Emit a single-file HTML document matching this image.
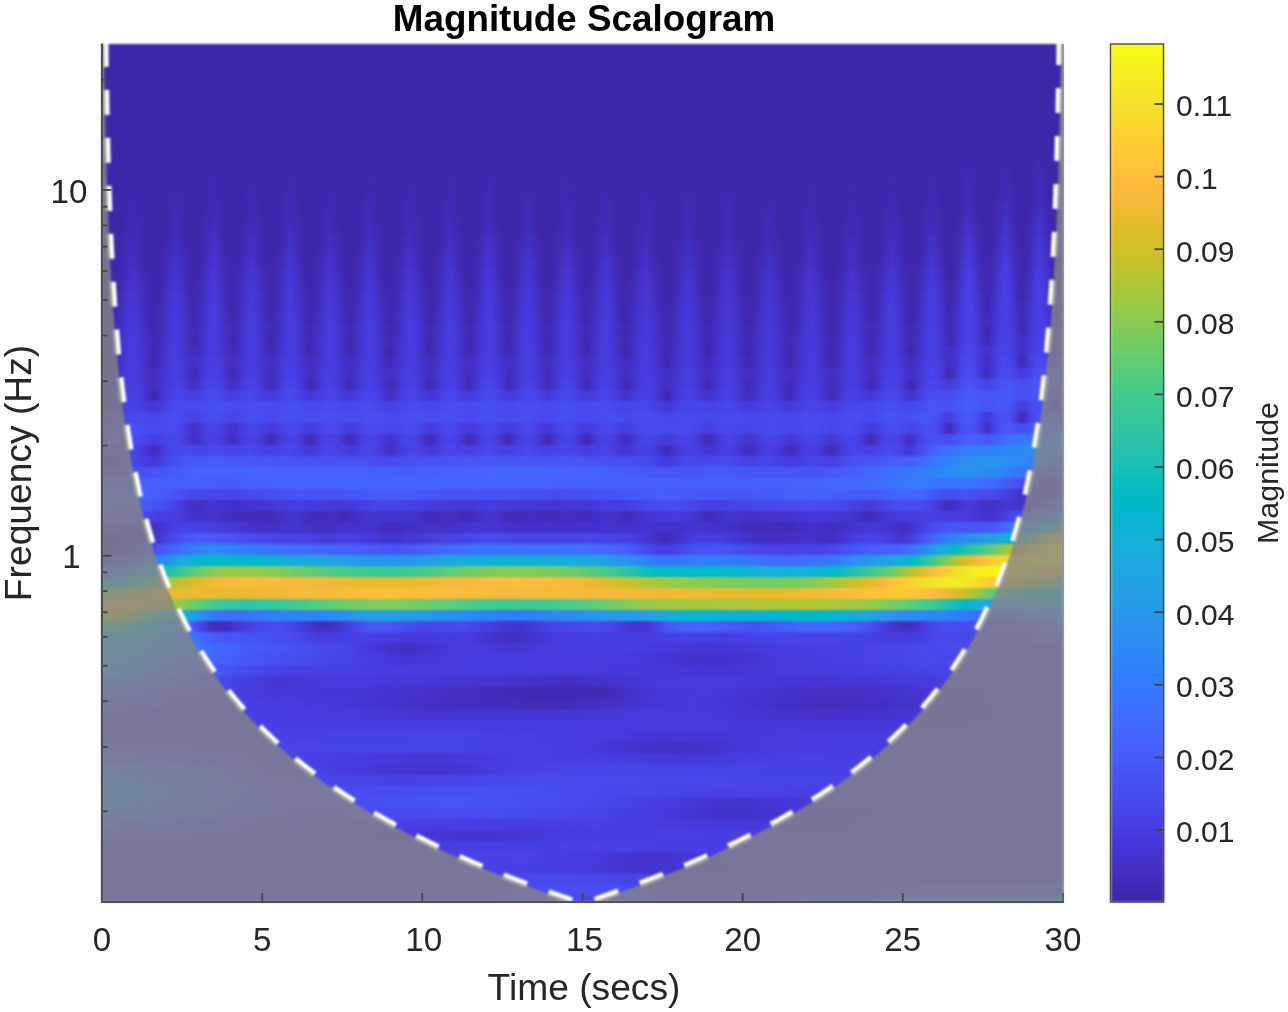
<!DOCTYPE html>
<html><head><meta charset="utf-8"><title>Magnitude Scalogram</title>
<style>
html,body{margin:0;padding:0;background:#fff}
body{width:1288px;height:1012px;position:relative;overflow:hidden;font-family:"Liberation Sans",sans-serif}
#plot{position:absolute;left:102.0px;top:44.0px;width:961.0px;height:858.0px;overflow:hidden;background:#3e26a8}
#plot i{position:absolute;left:0;width:962px;height:11.2px;display:block}
#cb{position:absolute;left:1110.5px;top:44.0px;width:53.0px;height:858.0px;background:linear-gradient(180deg,#f9fb15 0.00%,#f7f51b 1.56%,#f6ef20 3.12%,#f5e924 4.69%,#f5e327 6.25%,#f7dd2a 7.81%,#f9d62d 9.38%,#fcd030 10.94%,#feca33 12.50%,#fec437 14.06%,#febe3c 15.62%,#f9bb3d 17.19%,#f1ba37 18.75%,#e8bb2f 20.31%,#debc2a 21.88%,#d4bf28 23.44%,#c8c129 25.00%,#bcc42f 26.56%,#afc637 28.12%,#a2c840 29.69%,#94ca4a 31.25%,#85cb55 32.81%,#77cc60 34.38%,#69cd6b 35.94%,#5ccc76 37.50%,#4fcc80 39.06%,#44ca8a 40.62%,#3ac993 42.19%,#34c79c 43.75%,#2ec5a4 45.31%,#28c2ab 46.88%,#1ec0b2 48.44%,#12beb9 50.00%,#07bcc0 51.56%,#01b9c6 53.12%,#04b6cd 54.69%,#0cb3d3 56.25%,#14b0d8 57.81%,#1aacdd 59.38%,#1ea7e1 60.94%,#21a3e3 62.50%,#249ee6 64.06%,#269ae9 65.62%,#2895ec 67.19%,#2c90f0 68.75%,#2d8bf4 70.31%,#2e85f8 71.88%,#3080fa 73.44%,#347afd 75.00%,#3a74fe 76.56%,#3f6efe 78.12%,#4368fe 79.69%,#4562fc 81.25%,#475dfa 82.81%,#4757f7 84.38%,#4852f4 85.94%,#484cef 87.50%,#4746ea 89.06%,#4741e5 90.62%,#463bdd 92.19%,#4536d5 93.75%,#4332ca 95.31%,#422ebf 96.88%,#402ab4 98.44%,#3e26a8 100.00%)}
svg{position:absolute;left:0;top:0}
text{font-family:"Liberation Sans",sans-serif;fill:#262626}
.tk{font-size:33.2px} .ck{font-size:30px} .lb{font-size:37.2px} .mg{font-size:30.4px}
.tt{font-size:36.8px;font-weight:bold;fill:#000}
line{stroke:#444;stroke-width:1.8}
#wrap{position:absolute;left:0;top:0;width:1288px;height:1012px;background:#fff;filter:blur(0.9px)}
#top{position:absolute;left:0;top:0;width:1288px;height:1012px;filter:blur(0.55px)}
</style></head><body><div id="wrap">
<div id="plot">
<i style="top:-6.1px;background:linear-gradient(90deg,#3e26a8 0px,#3e26a8 711px,#3e26a8 922px,#3e26a8 950px,#3e26a8 959px,#3e26a8 961px)"></i>
<i style="top:4.9px;background:linear-gradient(90deg,#3e26a8 0px,#3e26a8 711px,#3e26a8 922px,#3e26a8 950px,#3e26a8 959px,#3e26a8 961px)"></i>
<i style="top:15.9px;background:linear-gradient(90deg,#3e26a8 0px,#3e26a8 711px,#3e26a8 922px,#3e26a8 950px,#3e26a8 959px,#3e26a8 961px)"></i>
<i style="top:26.9px;background:linear-gradient(90deg,#3e26a8 0px,#3e26a8 711px,#3e26a8 922px,#3e26a8 950px,#3e26a8 959px,#3e26a8 961px)"></i>
<i style="top:37.9px;background:linear-gradient(90deg,#3e26a8 0px,#3e26a8 711px,#3e26a8 922px,#3e26a8 950px,#3e26a8 959px,#3e26a8 961px)"></i>
<i style="top:48.9px;background:linear-gradient(90deg,#3e26a8 0px,#3e26a8 711px,#3e26a8 922px,#3e26a8 950px,#3e26a8 959px,#3e26a8 961px)"></i>
<i style="top:59.9px;background:linear-gradient(90deg,#3e26a8 0px,#3e26a8 711px,#3e26a8 922px,#3e26a8 950px,#3e26a8 959px,#3e26a8 961px)"></i>
<i style="top:70.9px;background:linear-gradient(90deg,#3e26a8 0px,#3e26a8 711px,#3e26a8 922px,#3e26a8 950px,#3e26a8 959px,#3e26a8 961px)"></i>
<i style="top:81.9px;background:linear-gradient(90deg,#3e26a8 0px,#3e26a8 711px,#3e26a8 922px,#3e26a8 950px,#3e26a8 959px,#3e26a8 961px)"></i>
<i style="top:92.9px;background:linear-gradient(90deg,#3e26a8 0px,#3e26a8 711px,#3e26a8 922px,#3e27aa 941px,#3e26a8 960px,#3e26a8 961px)"></i>
<i style="top:103.9px;background:linear-gradient(90deg,#3e26a8 0px,#3e26a9 711px,#3e26a8 852px,#3e27aa 871px,#3e27ab 899px,#3e26a8 927px,#3f28ad 940px,#3e26a8 953px,#3e26a8 959px,#3e26a8 961px)"></i>
<i style="top:114.9px;background:linear-gradient(90deg,#3e26a8 0px,#3e26a8 94px,#3e27ab 113px,#3e26a9 141px,#3e27aa 183px,#3e26a8 324px,#3e26a8 366px,#3e27ab 385px,#3e26a8 413px,#3e26a8 729px,#3e27a9 823px,#3e26a8 851px,#3f28ae 864px,#3e26a8 883px,#3e27aa 896px,#3f28af 905px,#3e26a8 914px,#3e26a8 927px,#3f29b1 936px,#3e26a8 949px,#3e26a8 958px,#3e26a8 961px)"></i>
<i style="top:125.9px;background:linear-gradient(90deg,#3e26a8 0px,#3e26a8 63px,#3e27ab 76px,#3e27a9 104px,#3f28ae 113px,#3e26a8 126px,#3e27ab 154px,#3e27aa 182px,#3f28ad 191px,#3e26a8 204px,#3e27ab 232px,#3e27a9 260px,#3e28ac 269px,#3e26a8 288px,#3e27ac 307px,#3e26a8 335px,#3e28ac 348px,#3e26a8 376px,#3f28ae 389px,#3e26a8 402px,#3e27ab 430px,#3e27aa 458px,#3e28ac 467px,#3e26a8 486px,#3e28ac 505px,#3e26a8 524px,#3e27aa 665px,#3e26a9 759px,#3e26a8 778px,#3e28ac 791px,#3e26a8 810px,#3e28ad 829px,#3e26a8 857px,#3f29b2 866px,#3e26a8 879px,#3e26a8 892px,#3f28ad 898px,#402ab3 904px,#3e26a8 913px,#3e26a8 926px,#3f28ad 932px,#402ab5 938px,#3e26a8 947px,#3e26a8 960px,#3e26a9 961px)"></i>
<i style="top:136.9px;background:linear-gradient(90deg,#3e26a8 0px,#3e27ab 28px,#3e26a8 56px,#3f28ad 75px,#3e26a8 88px,#3e26a8 101px,#3f29b1 110px,#3e26a8 123px,#3e27a9 142px,#3f28ae 151px,#3e26a8 164px,#3e26a8 177px,#3f29b0 190px,#3e26a8 199px,#3e26a8 218px,#3f28ad 231px,#3e26a8 244px,#3e26a8 257px,#3f28af 266px,#3e26a8 285px,#3e26a8 298px,#3f28ad 311px,#3e26a8 324px,#3e27ac 343px,#3f28af 349px,#3e26a8 362px,#3e27ab 381px,#3f29b1 387px,#3e26a9 396px,#3e26a8 415px,#3f28af 428px,#3e26a8 437px,#3e27a9 456px,#3f29af 465px,#3e26a8 478px,#3e27aa 497px,#3f28ae 506px,#3e26a8 519px,#3e27ac 547px,#3e26a8 566px,#3f28ad 585px,#3e26a8 604px,#3e26a9 617px,#3f28ae 626px,#3e26a8 645px,#3e27aa 673px,#3e27a9 701px,#3f28ad 710px,#3e26a8 723px,#3e28ac 751px,#3e26a8 779px,#3f28ae 792px,#3e26a8 805px,#3e27ab 824px,#3f29b0 830px,#3e26a8 843px,#3e26a8 856px,#3f29af 862px,#402bb6 866px,#3f28af 872px,#3e26a8 878px,#3e26a8 891px,#3f28ad 897px,#402bb8 903px,#3e27a9 912px,#3e26a8 925px,#3f28ad 931px,#412cb9 937px,#3e27a9 946px,#3e26a8 959px,#3e27aa 961px)"></i>
<i style="top:147.9px;background:linear-gradient(90deg,#3e26a8 0px,#3e26a8 19px,#3f28ae 32px,#3e26a8 45px,#3e27a9 64px,#3f29b0 73px,#3e26a8 86px,#3e26a8 99px,#3e27ac 105px,#402ab5 111px,#3e27aa 120px,#3e26a8 139px,#3f29b1 148px,#3e26a8 161px,#3e27a9 180px,#402ab4 189px,#3e26a9 198px,#3e26a8 217px,#3f29b1 230px,#3e26a8 239px,#3e26a9 258px,#402ab3 267px,#3e26a8 280px,#3e26a9 299px,#3f29b2 308px,#3e26a8 321px,#3e27aa 340px,#3f29b2 349px,#3e26a8 358px,#3e26a8 377px,#402ab5 386px,#3f28af 392px,#3e26a8 398px,#3e27a9 417px,#4029b2 426px,#3e27a9 435px,#3e26a8 454px,#3f29b2 463px,#3f28af 469px,#3e26a8 478px,#3e27ab 497px,#3f29b2 503px,#3e26a8 516px,#3e27a9 535px,#3f29b0 544px,#3e26a8 557px,#3e26a9 576px,#3f29b0 585px,#3e26a8 598px,#3e27a9 617px,#3f29b1 626px,#3e26a8 639px,#3e26a9 658px,#3f28ae 667px,#3e26a8 686px,#3e26a9 699px,#3f29b0 708px,#3e26a8 721px,#3e26a9 740px,#3f28ae 753px,#3e26a8 766px,#3e26a8 779px,#3f29b2 788px,#3f28af 794px,#3e26a8 803px,#3e27aa 822px,#402ab3 831px,#3e26a8 840px,#3e27ab 859px,#412cba 865px,#412cb9 869px,#3e27ab 875px,#3e27aa 894px,#412dbc 903px,#3e27aa 912px,#3e26a8 925px,#3f28af 931px,#412ebe 937px,#402bb8 941px,#3e27a9 947px,#3e27aa 960px,#3e27ab 961px)"></i>
<i style="top:158.9px;background:linear-gradient(90deg,#3e26a8 0px,#3e26a8 19px,#3f29b1 32px,#3e26a8 45px,#3e27a9 64px,#402ab4 73px,#3e26a8 86px,#3e26a8 99px,#3f28ae 105px,#412cb9 111px,#3f29b0 117px,#3e26a8 123px,#3e27ab 142px,#402ab5 148px,#3f29b1 154px,#3e26a9 160px,#3e27a9 179px,#402bb8 188px,#3f29b0 194px,#3e26a8 200px,#3e27a9 219px,#402ab5 228px,#3e27aa 237px,#3e26a8 256px,#402ab5 265px,#402bb6 269px,#3e26a9 278px,#3e26a8 297px,#402ab4 306px,#3f29b2 312px,#3e27a9 318px,#3e26a8 337px,#402ab5 346px,#3f29b2 352px,#3e26a9 358px,#3e27a9 377px,#412cb9 386px,#3f29b1 392px,#3e26a8 398px,#3e27aa 417px,#402bb6 426px,#3e27aa 435px,#3e26a8 454px,#402ab6 463px,#3f29b2 469px,#3e26a9 475px,#3e27a9 494px,#402bb6 503px,#3f29af 509px,#3e26a8 515px,#3e26a9 534px,#402ab3 543px,#3e26a8 556px,#3e26a8 575px,#402ab3 584px,#3f29b0 590px,#3e26a8 599px,#3e27aa 618px,#402ab4 627px,#3e26a9 636px,#3e26a8 655px,#3f29b1 668px,#3e26a8 681px,#3e27aa 700px,#402ab4 709px,#3e27a9 718px,#3e26a8 737px,#3f29b2 750px,#3e26a8 763px,#3e27ab 782px,#402bb6 788px,#3f29b1 794px,#3e26a9 800px,#3e26a8 819px,#402bb6 828px,#402bb6 832px,#3e26a8 841px,#3e26a8 854px,#3f29b0 860px,#422fc0 866px,#412dbb 870px,#3e27ab 876px,#3e26a8 889px,#3f28ad 895px,#422ebf 901px,#422ec0 905px,#3f28ae 911px,#3e26a8 917px,#3e27a9 926px,#3f29af 930px,#422fc2 936px,#422ebf 940px,#3e28ac 946px,#3e26a8 955px,#3f28ad 961px)"></i>
<i style="top:169.9px;background:linear-gradient(90deg,#3e26a8 0px,#3e26a8 19px,#402ab4 32px,#3e27a9 41px,#3e26a8 60px,#3f28ad 66px,#402bb7 72px,#4029b3 78px,#3e27a9 84px,#3e26a8 97px,#3e28ac 103px,#412cbb 109px,#412dbc 113px,#3e27aa 122px,#3e26a8 135px,#3e27ab 141px,#412cb9 150px,#3e27aa 159px,#3e27aa 178px,#412dbb 187px,#412cba 191px,#3e27a9 200px,#3e27ab 219px,#412cb9 228px,#3e27ab 237px,#3e26a9 256px,#412cb8 265px,#412cba 269px,#3e27a9 278px,#3e26a9 297px,#402bb7 306px,#412cb8 310px,#3e27a9 319px,#3e27aa 338px,#412cb9 347px,#402ab3 353px,#3e27a9 359px,#3e26a8 372px,#3e27ac 378px,#412ebd 387px,#3e27ac 396px,#3e26a8 409px,#3e28ad 418px,#412cb9 424px,#412cb9 428px,#3e27a9 437px,#3e26a8 450px,#3e27ab 456px,#412cbb 465px,#3e27ab 474px,#3e27a9 493px,#412cb9 502px,#412cb8 506px,#3e27a9 515px,#3e27aa 534px,#402bb7 543px,#3f29b1 549px,#3e26a9 555px,#3e26a8 574px,#402ab5 583px,#402ab5 589px,#3e26a8 598px,#3e27ab 617px,#402bb7 626px,#3e27aa 635px,#3e26a8 654px,#402ab5 667px,#3e26a8 680px,#3e27aa 699px,#402bb7 708px,#3f29b1 714px,#3e26a9 720px,#3e26a9 739px,#402ab4 748px,#4029b2 754px,#3e26a8 763px,#3e26a8 776px,#3f28ad 782px,#412cba 788px,#412cb9 792px,#3e26a9 801px,#3e27aa 820px,#412dbc 829px,#412cb9 833px,#3e27ab 839px,#3e26a8 852px,#3f28ae 858px,#422fc2 864px,#4331c6 868px,#3e27ab 877px,#3e26a9 890px,#402ab3 896px,#4331c7 902px,#4230c3 906px,#3f28ae 912px,#3e26a8 918px,#3e27ab 927px,#4332c8 936px,#4331c8 939px,#3e27ab 948px,#3e27a9 957px,#3f29b1 961px)"></i>
<i style="top:180.9px;background:linear-gradient(90deg,#3e26a8 0px,#3e26a9 19px,#402bb6 28px,#402bb6 34px,#3e26a9 43px,#3e27a9 62px,#412cba 71px,#412dbb 75px,#3e27aa 84px,#3e26a8 97px,#3f28af 103px,#422ebf 109px,#422fc1 113px,#3e27ab 122px,#3e26a8 135px,#3f28ad 141px,#412dbb 147px,#412dbd 151px,#3e27ab 160px,#3e26a8 173px,#3e28ad 179px,#422fc1 188px,#412dbd 192px,#3f28ad 198px,#3e26a8 207px,#3e27a9 216px,#412cba 225px,#412dbd 229px,#3e27ab 238px,#3e26a8 251px,#3e27ab 257px,#412ebe 266px,#412dbd 270px,#3e27aa 279px,#3e27ab 298px,#412dbd 307px,#412dbb 311px,#3e27a9 320px,#3e26a8 333px,#3f28ad 339px,#412dbb 345px,#412ebe 349px,#3e27ab 358px,#3e26a8 371px,#3e28ac 377px,#422fc2 386px,#422ebe 390px,#3f28ae 396px,#3e26a8 402px,#3e27aa 415px,#412dbd 424px,#412dbd 428px,#3e27aa 437px,#3e26a8 450px,#3f28ae 456px,#412dbc 462px,#422ebf 466px,#3e27ab 475px,#3e26a8 488px,#3e27ac 494px,#412ebe 503px,#412dbb 507px,#3e27a9 516px,#3e26a8 529px,#3e28ac 535px,#412dbb 544px,#3e26a8 557px,#3e27ab 576px,#412dbb 585px,#402ab4 591px,#3e27aa 597px,#3e27ab 616px,#412dbb 625px,#402ab4 631px,#3e27aa 637px,#3e27a9 656px,#402bb7 665px,#402ab5 671px,#3e26a8 680px,#3e27ab 699px,#412dbb 708px,#402ab4 714px,#3e27aa 720px,#3e27a9 739px,#402bb8 748px,#402bb6 754px,#3e26a9 763px,#3e26a8 776px,#3f29b0 782px,#422ebe 788px,#412dbd 792px,#3e27aa 801px,#3e26a8 814px,#3e27ac 820px,#422fc1 829px,#412ebe 833px,#3f28ae 839px,#3e26a8 848px,#3e27aa 854px,#412cb9 860px,#4433cd 866px,#4331c7 870px,#3f29b0 876px,#3e26a8 882px,#3e27aa 891px,#412dbc 897px,#4433cb 901px,#4433cc 905px,#3e28ac 914px,#3e26a9 923px,#402ab4 929px,#4433cc 935px,#4434d0 938px,#4230c4 942px,#3f28ad 948px,#3e26a9 954px,#3f29b2 960px,#402ab4 961px)"></i>
<i style="top:191.9px;background:linear-gradient(90deg,#3e26a8 0px,#3e27aa 19px,#412cba 28px,#412dbc 32px,#3e27ac 41px,#3e26a8 54px,#3e27ac 63px,#422fc0 72px,#422ebf 76px,#3e27ab 85px,#3e27aa 98px,#402ab5 104px,#4331c6 110px,#4330c5 114px,#3e27ac 123px,#3e26a8 132px,#3e27ab 138px,#422fc0 147px,#422fc2 151px,#3f28ad 160px,#3e26a8 169px,#3f28ad 178px,#4331c6 187px,#4230c4 191px,#3e27ac 200px,#3e26a8 213px,#3f28af 219px,#422ebf 225px,#422fc2 229px,#3f28ae 238px,#3e26a8 247px,#3e27ab 256px,#422fc2 265px,#4230c3 269px,#3f28ad 278px,#3e26a8 287px,#3e27aa 296px,#422ebe 305px,#422fc2 309px,#3f28ae 318px,#3e26a8 327px,#3e27ab 336px,#422ec0 345px,#4230c3 349px,#3f28ae 358px,#3e26a8 367px,#3f28ad 376px,#4331c6 385px,#4331c6 389px,#3f28ad 398px,#3e26a8 407px,#3f28ae 416px,#4230c3 425px,#422fc0 429px,#3e27ab 438px,#3e27a9 451px,#402ab3 457px,#4230c3 463px,#422fc2 467px,#3e27ac 476px,#3e26a9 489px,#3f29b0 495px,#422fc0 501px,#4230c3 505px,#3f28ad 514px,#3e26a8 523px,#3e27aa 532px,#412dbd 541px,#422ebf 545px,#3e28ac 554px,#3e26a8 567px,#3f28ad 576px,#422ec0 585px,#412dbd 589px,#3e27aa 598px,#3e26a8 611px,#3f28af 617px,#412dbd 623px,#422ec0 627px,#3f28ad 636px,#3e26a8 645px,#3e27a9 654px,#412dbc 667px,#3e27a9 680px,#3e26a8 693px,#3f28ad 699px,#422ec0 708px,#402bb8 714px,#3e27ab 720px,#3e26a8 733px,#3e27ab 739px,#412dbc 748px,#412dbd 752px,#3e27ab 761px,#3e26a8 774px,#3f28af 780px,#4330c4 789px,#422ec0 793px,#3e27aa 802px,#3e26a9 815px,#3f29b1 821px,#4230c3 827px,#4331c7 831px,#3f28ae 840px,#3e26a8 846px,#3f28ad 855px,#4230c3 861px,#4535d2 865px,#4435d1 869px,#3f28ae 878px,#3e26a8 884px,#3e27ab 890px,#412dbd 896px,#4434cf 900px,#4536d4 904px,#4331c7 908px,#3f29af 914px,#3e26a9 920px,#3f28ae 926px,#4536d2 935px,#4536d4 939px,#3f29b1 948px,#3e27aa 954px,#3f28af 958px,#412cb9 961px)"></i>
<i style="top:202.9px;background:linear-gradient(90deg,#3e26a9 0px,#3e27ab 19px,#422ebe 28px,#422fc1 32px,#3e27a9 45px,#3e26a9 58px,#3f29b1 64px,#4331c6 73px,#422fc2 77px,#3e27ab 86px,#3e26a9 95px,#3f29b1 101px,#4433cc 110px,#4332ca 114px,#3f28ae 123px,#3e26a8 132px,#3f28ad 138px,#4330c5 147px,#4331c7 151px,#3f29b0 160px,#3e26a8 166px,#3e27ab 175px,#412cb9 181px,#4433cb 187px,#4332ca 191px,#3f28ae 200px,#3e26a8 209px,#3e27ab 215px,#422fc1 224px,#4331c8 228px,#422fc2 232px,#3e27ab 241px,#3e26a8 250px,#3f28ae 256px,#4331c7 265px,#4332c9 269px,#3f29b0 278px,#3e26a8 284px,#3e27a9 293px,#3f29b2 299px,#4230c4 305px,#4331c8 309px,#3e27aa 322px,#3e26a8 331px,#3f28ae 337px,#4331c7 346px,#4331c7 350px,#3f28ae 359px,#3e26a8 368px,#3e27ac 374px,#412dbc 380px,#4433cd 386px,#4332c9 390px,#3f28ad 399px,#3e26a8 408px,#3e28ad 414px,#4331c6 423px,#4332c9 427px,#3f29b1 436px,#3e26a9 442px,#3e27aa 451px,#402bb7 457px,#4332c8 463px,#4331c8 467px,#3f28ae 476px,#3e26a8 485px,#3e27ab 491px,#4230c3 500px,#4332c9 504px,#412dbc 510px,#3e28ac 516px,#3e26a8 525px,#3e27ab 531px,#422ebf 540px,#4330c5 544px,#412cb9 550px,#3e27ac 556px,#3e26a8 569px,#3f28ae 575px,#4230c4 584px,#4230c3 588px,#3f28ad 597px,#3e26a8 606px,#3f28ae 615px,#4230c4 624px,#4230c3 628px,#3f28ad 637px,#3e26a8 646px,#3e27ab 655px,#412ebe 664px,#422fc1 668px,#3e27a9 681px,#3e27a9 694px,#4029b3 700px,#422fc2 706px,#4330c4 710px,#3f28af 719px,#3e26a8 728px,#3e27aa 737px,#4230c3 750px,#412cba 756px,#3e27ac 762px,#3e26a8 771px,#3e27ac 777px,#4330c5 786px,#4332ca 790px,#412dbc 796px,#3e28ac 802px,#3e26a8 811px,#3e27ac 817px,#412dbc 823px,#4433cd 829px,#4332c9 833px,#3f28ad 842px,#3e26a9 848px,#3f28ae 854px,#4230c4 860px,#4537d6 864px,#4539d9 868px,#4433cc 872px,#3f29b2 878px,#3e27a9 884px,#3f28ad 890px,#422fc3 896px,#4537d5 900px,#4639d9 904px,#4434ce 908px,#402ab3 914px,#3e27aa 920px,#3f29b2 926px,#4538d8 935px,#4639d9 939px,#4332cb 943px,#3f29b1 949px,#3e26a8 953px,#402bb6 959px,#412dbd 961px)"></i>
<i style="top:213.9px;background:linear-gradient(90deg,#3e27aa 0px,#3e26a8 13px,#3f28ad 19px,#4230c4 28px,#4331c6 32px,#3e27ab 45px,#3e27aa 58px,#402ab5 64px,#4331c7 70px,#4433cc 74px,#422ebe 80px,#3f28ae 86px,#3e27a9 92px,#3f28ad 98px,#422ebe 104px,#4435d1 110px,#4434d0 114px,#3f29b2 123px,#3e27a9 129px,#3e27ab 135px,#402cb8 141px,#4433cb 147px,#4433cd 151px,#402ab3 160px,#3e27aa 166px,#3f28ad 175px,#412ebe 181px,#4435d0 187px,#4434cf 191px,#3f29b1 200px,#3e27a9 206px,#3f28ad 215px,#4331c7 224px,#4433cd 228px,#4331c8 232px,#3f28ad 241px,#3e27a9 250px,#3f29b1 256px,#4433cc 265px,#4434ce 269px,#402ab3 278px,#3e27a9 284px,#3e27aa 293px,#402bb6 299px,#4332c9 305px,#4433cd 309px,#422ebf 315px,#3f28ae 321px,#3e26a9 330px,#3f29af 336px,#4432cb 345px,#4434ce 349px,#412ebe 355px,#3f28ad 361px,#3e27a9 370px,#402ab3 376px,#4435d1 385px,#4435d1 389px,#402ab3 398px,#3e27a9 404px,#3f28ad 413px,#4332c8 422px,#4434cf 426px,#4332c9 430px,#3f28ae 439px,#3e27a9 448px,#4029b2 454px,#4434ce 463px,#4433cd 467px,#3f29b1 476px,#3e27a9 482px,#3f28ae 491px,#4332c9 500px,#4434ce 504px,#4331c8 508px,#3f28ad 517px,#3e26a9 526px,#3f28af 532px,#4331c7 541px,#4332c9 545px,#3e27ab 558px,#3e27aa 571px,#402bb6 577px,#4331c7 583px,#4332ca 587px,#3e27ab 600px,#3e27a9 609px,#3f29b1 615px,#4332c9 624px,#4332c8 628px,#3f29b0 637px,#3e26a9 643px,#3e27aa 652px,#402ab4 658px,#4230c3 664px,#4331c6 668px,#3e27ab 681px,#3e27ab 694px,#402bb6 700px,#4331c7 706px,#4332ca 710px,#3e27ab 723px,#3e26a8 732px,#3f28ad 738px,#4230c4 747px,#4331c8 751px,#412dbb 757px,#3f28ad 763px,#3e27a9 772px,#3f29b1 778px,#4433cd 787px,#4434cf 791px,#402ab4 800px,#3e27aa 806px,#3e27ab 815px,#412cba 821px,#4434d0 827px,#4536d3 831px,#422fc1 837px,#3f28ae 843px,#3e27aa 849px,#402ab4 855px,#463adb 864px,#463cde 868px,#4535d2 872px,#402bb6 878px,#3e27aa 884px,#3f29b0 890px,#4332c8 896px,#4639da 900px,#463cde 904px,#4536d3 908px,#402bb7 914px,#3e26a8 920px,#402ab5 926px,#463adc 935px,#463bdd 939px,#4435d0 943px,#402ab5 949px,#3f28ae 953px,#402ab3 957px,#422fc1 961px)"></i>
<i style="top:224.9px;background:linear-gradient(90deg,#3e27ab 0px,#3e27a9 13px,#3f29b0 19px,#4332c9 28px,#4433cc 32px,#422ebe 38px,#3f28af 44px,#3e26a8 53px,#3f28ad 59px,#4435d0 72px,#4434cf 76px,#402ab3 85px,#3e27a9 91px,#3f28ae 97px,#422ebf 103px,#4536d4 109px,#4537d6 113px,#4230c3 119px,#3f29b0 125px,#3e27a9 131px,#3f29b1 137px,#4434ce 146px,#4536d3 150px,#4433cc 154px,#3f29af 163px,#3e27a9 169px,#3f29af 175px,#4434ce 184px,#4537d6 188px,#4435d1 192px,#3f29b2 201px,#3e27aa 207px,#3e28ac 213px,#412dbb 219px,#4434cf 225px,#4535d2 229px,#4230c3 235px,#3f29b0 241px,#3e27aa 247px,#3f28ad 253px,#412ebe 259px,#4435d2 265px,#4536d3 269px,#422fc1 275px,#3f28af 281px,#3e27a9 287px,#3e27ac 293px,#412cba 299px,#4434ce 305px,#4536d3 309px,#4230c4 315px,#3f29b1 321px,#3e27aa 327px,#3f28ad 333px,#412dbc 339px,#4435d0 345px,#4536d3 349px,#4230c3 355px,#3f29b0 361px,#3e27a9 367px,#3f28af 373px,#4434cd 382px,#4538d7 386px,#4536d3 390px,#402ab4 399px,#3e27aa 405px,#3e28ad 411px,#412dbc 417px,#4435d0 423px,#4536d4 427px,#4230c3 433px,#3f29b0 439px,#3e27a9 445px,#3f28af 451px,#4433cc 460px,#4536d4 464px,#4435d0 468px,#3f29b2 477px,#3e27aa 483px,#3f28ad 489px,#412dbc 495px,#4435d0 501px,#4536d3 505px,#422fc2 511px,#3f29b0 517px,#3e27a9 523px,#3e28ac 529px,#4434ce 542px,#4433cd 546px,#402ab3 555px,#3e27aa 561px,#3e27ab 570px,#402bb7 576px,#4332ca 582px,#4434cf 586px,#4332ca 590px,#3f28af 599px,#3e27a9 605px,#3e28ac 611px,#4434ce 624px,#4434cd 628px,#402ab4 637px,#3e27aa 643px,#3e27ab 652px,#4332ca 665px,#4332ca 669px,#3e27ac 682px,#3e27aa 691px,#3f29b2 697px,#4433cd 706px,#4434cf 710px,#422ebf 716px,#3f28af 722px,#3e26a9 731px,#3f28ae 737px,#4331c7 746px,#4434ce 750px,#4332c9 754px,#3f29b0 763px,#3e27a9 769px,#3f28ad 775px,#412ebe 781px,#4535d2 787px,#4536d4 791px,#422fc3 797px,#3f29b0 803px,#3e27a9 809px,#3f28ad 815px,#422ebf 821px,#4537d6 827px,#4539d9 831px,#4434cf 835px,#3f28af 844px,#3e26a8 848px,#402ab4 854px,#463bdd 863px,#473fe2 867px,#463adb 871px,#402ab3 880px,#3e27aa 884px,#3f28ae 888px,#4230c3 894px,#463cde 900px,#473ee2 904px,#4538d8 908px,#412dbb 914px,#3f29b0 918px,#3f28af 922px,#412cb9 926px,#4537d6 932px,#463ee1 936px,#463cdf 940px,#4434cf 944px,#402ab4 950px,#3f28ae 954px,#412cb9 958px,#4330c5 961px)"></i>
<i style="top:235.9px;background:linear-gradient(90deg,#3f28ae 0px,#3e26a8 9px,#3f29b2 18px,#4433cc 27px,#4435d1 31px,#4331c7 37px,#3f28ae 46px,#3e27aa 55px,#402ab4 61px,#4435d1 70px,#4537d6 74px,#4332c8 80px,#402ab4 86px,#3e27ab 92px,#402ab3 98px,#4536d3 107px,#4639da 111px,#4537d6 115px,#402bb6 124px,#3e27ab 130px,#3f29b2 136px,#4434d0 145px,#4538d7 149px,#4536d3 153px,#402ab5 162px,#3e27aa 168px,#3f29b0 174px,#4434cf 183px,#4539d9 187px,#4538d8 191px,#3f28ae 204px,#3e26a8 208px,#3f29b0 214px,#4434ce 223px,#4537d7 227px,#4536d4 231px,#402bb6 240px,#3e27aa 246px,#3e27aa 250px,#402bb8 256px,#4537d6 265px,#4538d7 269px,#4331c6 275px,#3f29b2 281px,#3e27a9 287px,#3f28ae 293px,#422ebf 299px,#4536d3 305px,#4538d7 309px,#4434d0 313px,#3f29b1 322px,#3e26a8 328px,#3f29b1 334px,#4434cf 343px,#4538d7 347px,#4537d5 351px,#402bb6 360px,#3e27aa 366px,#3e27ab 370px,#412cba 376px,#4535d2 382px,#4639da 386px,#4538d7 390px,#402bb7 399px,#3e27aa 405px,#3e27ab 409px,#412cb9 415px,#4434cf 421px,#4538d8 425px,#4537d5 429px,#402bb6 438px,#3e27aa 444px,#3f28af 450px,#4538d7 463px,#4537d7 467px,#3f28ae 480px,#3e26a9 484px,#3f29b1 490px,#4434cf 499px,#4538d7 503px,#4536d4 507px,#402bb6 516px,#3e27aa 522px,#3f28ad 528px,#4435d1 541px,#4536d3 545px,#4230c4 551px,#3f29b2 557px,#3e27aa 563px,#3e27ac 569px,#402bb8 575px,#4536d2 584px,#4535d2 588px,#3f28ae 601px,#3e27a9 607px,#3f29b2 613px,#4434ce 622px,#4536d3 626px,#4331c8 632px,#3f28ae 641px,#3e27a9 647px,#3f28af 653px,#4332c8 662px,#4434d0 666px,#4434cd 670px,#3e28ac 683px,#3e27a9 689px,#3f29b1 695px,#4433cc 704px,#4536d3 708px,#4435d0 712px,#402ab4 721px,#3e27aa 727px,#3e27ab 733px,#402bb6 739px,#4435d1 748px,#4435d2 752px,#3f28ae 765px,#3e27a9 771px,#402ab5 777px,#4536d5 786px,#4539d9 790px,#4536d2 794px,#402ab3 803px,#3e27a9 809px,#3f29b0 815px,#4230c4 821px,#463ada 827px,#463bdd 831px,#4536d5 835px,#402ab3 844px,#3f28ae 848px,#402ab3 852px,#4332ca 858px,#463bdd 862px,#4741e5 866px,#473ee2 870px,#4332c9 876px,#402bb7 880px,#3f29b0 884px,#3f29b2 888px,#4332c8 894px,#463ee1 900px,#4740e4 904px,#463adc 908px,#402ab4 917px,#3f28ae 921px,#422fc1 927px,#463bdc 933px,#4740e3 937px,#463cdf 941px,#402bb6 950px,#3f28ae 953px,#402bb7 957px,#4331c8 961px)"></i>
<i style="top:246.9px;background:linear-gradient(90deg,#3f29b1 0px,#3e27a9 9px,#3f28af 15px,#4536d3 28px,#4537d6 32px,#4332c8 38px,#3f28af 47px,#3e26a9 53px,#3f29b2 59px,#4435d0 68px,#4539d9 72px,#4538d7 76px,#3f29b1 89px,#3f29b0 95px,#422ebf 101px,#4537d6 107px,#463bdc 111px,#4539d9 115px,#412cb9 124px,#3f28ae 130px,#402ab5 136px,#4536d4 145px,#463ada 149px,#4538d7 153px,#412cb9 162px,#3f28ae 168px,#402ab3 174px,#4536d3 183px,#463adb 187px,#463ada 191px,#4331c8 197px,#402ab4 203px,#3f28ad 209px,#402bb6 215px,#4537d5 224px,#463ada 228px,#4537d6 232px,#402bb7 241px,#3f28ad 247px,#402ab3 253px,#4435d2 262px,#463ada 266px,#4639d9 270px,#4331c7 276px,#402ab3 282px,#3e27aa 288px,#402ab3 294px,#4535d2 303px,#4639da 307px,#4538d8 311px,#3f29b0 324px,#3f28ad 330px,#412cba 336px,#4538d8 345px,#463adb 349px,#4536d3 353px,#402ab5 362px,#3f28ae 368px,#402bb8 374px,#4538d8 383px,#463bdd 387px,#4538d8 391px,#402bb7 400px,#3f28ae 406px,#402ab5 412px,#4536d4 421px,#463adb 425px,#4538d8 429px,#412cba 438px,#3f28ae 444px,#402ab3 450px,#4435d1 459px,#463ada 463px,#4639da 467px,#4331c8 473px,#402ab4 479px,#3f28ae 485px,#402bb7 491px,#4537d6 500px,#463ada 504px,#4537d5 508px,#402bb6 517px,#3e28ac 523px,#3f29b1 529px,#4434ce 538px,#4537d7 542px,#4537d6 546px,#3f29b0 559px,#3e26a8 565px,#3f29b1 571px,#4537d6 584px,#4537d6 588px,#3f29b1 601px,#3e27ac 607px,#402bb6 613px,#4535d2 622px,#4538d7 626px,#4435d2 630px,#402ab5 639px,#3e27aa 645px,#3f28ae 651px,#4435d1 664px,#4536d4 668px,#4331c7 674px,#3f28ae 683px,#3e27aa 689px,#402ab4 695px,#4435d0 704px,#4538d7 708px,#4536d4 712px,#3f28ae 725px,#3e27aa 731px,#402ab5 737px,#4435d1 746px,#4537d7 750px,#4536d3 754px,#402bb7 763px,#3f28ad 769px,#402ab3 775px,#4536d2 784px,#463adb 788px,#463ada 792px,#4331c8 798px,#402ab4 804px,#3e27ac 810px,#402bb6 816px,#4539d9 825px,#463ee0 829px,#463cde 833px,#4332c9 839px,#402ab3 845px,#3f28af 849px,#422ec0 855px,#463bdc 861px,#4742e6 865px,#4742e6 869px,#463adb 873px,#402ab3 882px,#3f28ae 886px,#422fc2 892px,#463cde 898px,#4742e6 902px,#4740e3 906px,#4538d7 910px,#412cba 916px,#3f28ae 920px,#402bb7 924px,#463cde 933px,#4741e4 937px,#463de0 941px,#412ebe 950px,#412cb9 954px,#422fc1 958px,#4433cc 961px)"></i>
<i style="top:257.9px;background:linear-gradient(90deg,#402ab4 0px,#3e26a9 9px,#412cb9 18px,#4537d5 27px,#4538d8 33px,#4332c9 39px,#3f29b0 48px,#3f28ad 54px,#412cb8 60px,#4537d7 69px,#463adb 75px,#4433cd 81px,#3f28ae 90px,#3e27a9 93px,#4331c6 102px,#463ada 108px,#463cde 112px,#4536d3 118px,#3f29b2 127px,#3e27aa 131px,#4330c5 140px,#4539d9 146px,#463bdd 150px,#4535d2 156px,#402ab3 165px,#3e27ac 169px,#402bb8 175px,#4538d8 184px,#463cde 188px,#4537d6 194px,#402bb6 203px,#3f28ae 209px,#412cba 215px,#4538d8 224px,#463bdd 228px,#4536d3 234px,#402ab5 243px,#3f28ad 247px,#402ab6 253px,#4537d5 262px,#463bdd 268px,#4535d2 274px,#402ab4 283px,#3f28af 289px,#412cb9 295px,#4538d8 304px,#463bdd 308px,#4536d4 314px,#402ab5 323px,#3f28ae 329px,#412cba 335px,#4539d9 344px,#463bdd 348px,#4536d3 354px,#402ab4 363px,#3e28ac 367px,#402bb7 373px,#4538d8 382px,#463cde 386px,#463bdc 390px,#4332c9 396px,#402ab4 402px,#3e28ac 406px,#402bb7 412px,#4538d7 421px,#463bdd 427px,#4435d0 433px,#3f29b1 442px,#3e27ac 446px,#412cba 452px,#4639d9 461px,#463bde 465px,#4536d3 471px,#402ab3 480px,#3e28ac 484px,#402bb7 490px,#4537d6 499px,#463bdc 505px,#4434cf 511px,#3f29b2 520px,#3f28ae 524px,#402bb7 530px,#4536d4 539px,#4639da 545px,#4433cd 551px,#3f29b2 560px,#3f28ad 566px,#402bb7 572px,#4536d3 581px,#4639d9 587px,#4433cd 593px,#3f29b1 602px,#3f28af 608px,#412dbc 614px,#4538d7 623px,#4538d7 629px,#3f29b2 642px,#3f28ae 648px,#402bb8 654px,#4536d3 663px,#4537d7 669px,#4332c8 675px,#3f29b0 684px,#3f28ae 690px,#412cba 696px,#4537d6 705px,#4538d8 711px,#4332c8 717px,#402bb6 723px,#3f28ae 729px,#402ab3 735px,#4538d8 748px,#4537d6 754px,#3f29b0 767px,#3f28ad 771px,#412dbc 777px,#463adb 786px,#463cde 790px,#4536d3 796px,#402ab5 805px,#3f29b0 811px,#412dbd 817px,#463cdf 826px,#473fe2 832px,#4435d1 838px,#3f28ae 847px,#3f29b0 850px,#4331c8 856px,#473ee1 862px,#4744e8 866px,#4742e6 870px,#4639da 874px,#412ebe 880px,#3f29b1 884px,#402ab3 887px,#4332cb 893px,#473fe2 899px,#4743e7 903px,#473fe3 907px,#422fc1 916px,#412cba 920px,#422ebe 924px,#463de0 933px,#4741e5 937px,#463ee1 941px,#4332cb 947px,#412cba 951px,#402ab5 954px,#422fc0 958px,#4433cd 961px)"></i>
<i style="top:268.9px;background:linear-gradient(90deg,#402bb8 0px,#3f28ae 6px,#3f28af 12px,#412dbc 18px,#4538d8 27px,#463adb 33px,#4433cd 39px,#3f29b2 48px,#3f28af 54px,#412dbb 60px,#4539d9 69px,#463bdd 75px,#4435d0 81px,#402ab5 90px,#402ab4 94px,#422fc2 100px,#4538d7 106px,#463cdf 112px,#4537d5 118px,#402bb7 127px,#402ab3 131px,#422ebe 137px,#463adb 146px,#463bdd 152px,#4434ce 158px,#3f29b1 167px,#3f29b1 171px,#4639da 184px,#463cdf 190px,#4435d1 196px,#3f29b2 205px,#3e27ac 209px,#4331c7 218px,#4639da 224px,#463bdd 230px,#4434cf 236px,#3f29b1 245px,#3f28ad 249px,#4332c9 258px,#463adb 264px,#463bdd 270px,#4434ce 276px,#3f28af 285px,#3e27a9 288px,#422fc3 297px,#4538d8 303px,#463cde 309px,#4536d4 315px,#402ab4 324px,#3e27ab 328px,#412cb9 334px,#4539d8 343px,#463cdf 349px,#4536d3 355px,#402ab4 364px,#3f28af 368px,#412dbd 374px,#463adc 383px,#463cdf 389px,#4434cf 395px,#3f29b1 404px,#3f29b0 408px,#4539d9 421px,#463cdf 427px,#4536d2 433px,#402ab4 442px,#3f29af 446px,#412ebe 452px,#463adb 461px,#463bde 467px,#4434ce 473px,#3f29b1 482px,#3f29b0 486px,#4538d8 499px,#463cde 505px,#4435d1 511px,#4029b3 520px,#3e27aa 524px,#4230c3 533px,#4537d7 539px,#463adc 545px,#4434d0 551px,#402ab4 560px,#3f28ad 566px,#412cb9 572px,#4537d6 581px,#463adb 587px,#4434cf 593px,#3f29b2 602px,#3e27a9 606px,#422fc2 615px,#4537d5 621px,#463adb 627px,#4434cf 633px,#4029b3 642px,#3e27ab 646px,#402ab5 652px,#4435d1 661px,#4639da 667px,#4435d2 673px,#402bb6 682px,#3e27ab 688px,#402bb6 694px,#4536d3 703px,#463adb 709px,#4535d2 715px,#402ab5 724px,#3e27ac 730px,#422fc1 739px,#4537d5 745px,#463adc 751px,#4435d1 757px,#402ab4 766px,#3f28ad 770px,#412dbb 776px,#463ada 785px,#463ddf 791px,#4536d3 797px,#3f29b2 806px,#3e27a9 810px,#4332c8 819px,#463cdf 825px,#4740e4 831px,#4538d8 837px,#422fc2 843px,#412cba 847px,#412dbc 851px,#4435d1 857px,#4741e5 863px,#4744e8 869px,#4539d9 875px,#422fc1 881px,#412dbb 885px,#422fc0 889px,#463ee1 898px,#4743e7 904px,#463adb 910px,#402bb7 919px,#402bb7 922px,#463adb 931px,#4741e5 937px,#463bdc 943px,#402ab4 952px,#3f29b1 954px,#4332cb 960px,#4434ce 961px)"></i>
<i style="top:279.9px;background:linear-gradient(90deg,#412dbb 0px,#3f28af 6px,#3f29b1 12px,#4332ca 21px,#4639da 27px,#463bdc 33px,#4434d0 39px,#402ab3 48px,#3e27ab 52px,#402bb8 58px,#4537d6 67px,#463cdf 73px,#4538d8 79px,#412ebd 88px,#402bb8 94px,#4330c5 100px,#4539d8 106px,#463de0 112px,#4537d6 118px,#412dbb 127px,#412cb9 133px,#463bdc 146px,#463cde 152px,#4435d1 158px,#412ebe 164px,#402bb8 170px,#422fc2 176px,#463bdd 185px,#463cdf 191px,#4435d0 197px,#412dbd 203px,#402bb7 209px,#422fc1 215px,#463adc 224px,#463cdf 230px,#4535d2 236px,#412cb9 245px,#412cb9 251px,#463bdd 264px,#463cde 270px,#4435d0 276px,#402ab5 285px,#402ab3 289px,#422ebf 295px,#463adb 304px,#463cdf 310px,#4536d3 316px,#412cb9 325px,#412cb8 331px,#4331c7 337px,#4639da 343px,#463ddf 349px,#4537d5 355px,#412cbb 364px,#412cb9 370px,#4331c8 376px,#463adb 382px,#463de0 388px,#4537d5 394px,#412cba 403px,#412cb9 409px,#463bdc 422px,#463cdf 428px,#4435d1 434px,#422ebe 440px,#402bb8 446px,#422fc2 452px,#463bdc 461px,#463cdf 467px,#4435d1 473px,#422ebe 479px,#402bb8 485px,#422fc1 491px,#463adc 500px,#463cde 506px,#4435d0 512px,#412dbd 518px,#402ab5 524px,#412ebe 530px,#4538d8 539px,#463bdd 545px,#4535d2 551px,#402ab5 560px,#3f28ad 564px,#3f29b1 568px,#4538d7 581px,#463bdc 587px,#4435d1 593px,#402bb8 602px,#402ab6 608px,#422fc2 614px,#4639da 623px,#4639da 629px,#402bb6 642px,#3f29b0 646px,#402cb8 652px,#4536d3 661px,#463adb 667px,#4536d4 673px,#3f29b0 686px,#3f29b0 690px,#4332c9 699px,#4639d9 705px,#463adb 711px,#4434ce 717px,#402ab3 726px,#3f28af 730px,#412dbb 736px,#4538d7 745px,#463bdd 751px,#4536d4 757px,#412cbb 766px,#412cb8 772px,#4331c6 778px,#4639d9 784px,#463ee0 790px,#4538d8 796px,#412dbb 805px,#402bb6 811px,#4330c5 817px,#463adb 823px,#4741e5 829px,#463de0 835px,#422ec0 844px,#402bb6 848px,#412dbd 852px,#473ee1 861px,#4745e9 867px,#463ee1 873px,#412cba 882px,#402ab3 885px,#412dbd 889px,#4539d8 895px,#4743e7 901px,#4741e4 907px,#4434cf 913px,#402ab4 919px,#402ab4 922px,#463adc 931px,#4742e6 937px,#463cdf 943px,#4330c4 952px,#4331c6 956px,#4536d3 960px,#4537d5 961px)"></i>
<i style="top:290.9px;background:linear-gradient(90deg,#412ebd 0px,#3f28af 6px,#3f28ae 10px,#4331c6 19px,#4538d8 25px,#463cde 31px,#4538d7 37px,#412ebe 46px,#402bb6 52px,#412dbd 58px,#4538d8 67px,#463ddf 73px,#4539d9 79px,#3e28ac 92px,#3f28ad 94px,#4435d0 103px,#463cdf 109px,#463bde 115px,#4433cd 121px,#3e28ac 130px,#402bb6 134px,#4537d6 143px,#463ddf 149px,#4639da 155px,#3f29b2 168px,#402ab5 172px,#4536d4 181px,#463de0 187px,#463bdc 193px,#402bb6 206px,#402ab5 210px,#463adb 223px,#463de0 229px,#4537d6 235px,#412cb9 244px,#402ab3 248px,#422ec0 254px,#463adc 263px,#463de0 269px,#4537d6 275px,#412dbb 284px,#412cb8 290px,#4331c6 296px,#4538d8 302px,#463de0 308px,#4639d9 314px,#412ebd 323px,#402ab5 327px,#402bb8 331px,#463bdd 344px,#463ddf 350px,#4536d3 356px,#402ab5 365px,#3f29b2 369px,#463adc 382px,#463ee0 388px,#4537d6 394px,#402bb7 403px,#3f29b2 407px,#4639d9 420px,#463de0 426px,#4538d8 432px,#412cb9 441px,#3f29b0 445px,#402bb8 449px,#4538d7 458px,#463de0 464px,#463ada 470px,#402ab3 483px,#402ab5 487px,#4536d3 496px,#463cdf 502px,#463adc 508px,#402bb8 521px,#402bb6 525px,#4230c3 531px,#463adb 540px,#463bdd 546px,#4435d1 552px,#412cb9 561px,#402bb7 567px,#422fc3 573px,#463ada 582px,#463bdc 588px,#4435d0 594px,#402bb7 603px,#402ab5 607px,#422fc1 613px,#4639d9 622px,#463adc 628px,#4435d0 634px,#412cb9 643px,#402bb8 649px,#4433cd 658px,#4639da 664px,#463ada 670px,#4330c5 679px,#412cb8 685px,#412cb8 691px,#4539d8 704px,#463bdd 710px,#4536d3 716px,#412cbb 725px,#402bb7 731px,#422fc2 737px,#463ada 746px,#463bdd 752px,#4535d2 758px,#402bb7 767px,#402ab4 771px,#4230c3 777px,#4538d8 783px,#463ee1 789px,#463adb 795px,#422fc0 804px,#402bb8 810px,#4330c4 816px,#463ee1 825px,#4741e5 831px,#463adb 837px,#402bb6 846px,#3f29b0 849px,#4332ca 855px,#473fe2 861px,#4746ea 867px,#473fe2 873px,#412ebe 882px,#402bb7 885px,#422fc0 889px,#463adb 895px,#4744e8 901px,#4742e6 907px,#4433cc 916px,#4330c5 920px,#4332ca 924px,#4740e4 933px,#4743e7 939px,#463adb 945px,#4230c3 951px,#422fc1 954px,#4537d6 960px,#4539d9 961px)"></i>
<i style="top:301.9px;background:linear-gradient(90deg,#422fc2 0px,#402bb7 6px,#412cb9 12px,#4539d9 25px,#463cdf 31px,#4539d8 37px,#402bb6 50px,#402ab6 54px,#4539d9 67px,#463de0 73px,#4639da 79px,#422fc0 88px,#412cba 92px,#412dbd 96px,#4539d9 105px,#463ee1 111px,#463adb 117px,#422ec0 126px,#412cb9 130px,#412dbd 134px,#4538d7 143px,#463de0 149px,#463adb 155px,#402ab5 168px,#402bb7 172px,#4537d6 181px,#463ee0 187px,#463bdd 193px,#4433cc 199px,#402bb6 205px,#3f28af 208px,#422ebf 214px,#463adb 223px,#463de0 229px,#4538d7 235px,#412cb8 244px,#3f29af 248px,#422fc0 254px,#4537d6 260px,#463de0 266px,#463bdd 272px,#4433cd 278px,#3e28ac 287px,#3e28ad 289px,#4539d9 302px,#463de0 308px,#463ada 314px,#3f28af 327px,#3f29b1 330px,#4435d1 339px,#463cdf 345px,#463cdf 351px,#4435d1 357px,#402ab5 366px,#402bb7 370px,#4537d5 379px,#463ee1 385px,#463cdf 391px,#4434ce 397px,#412cb9 403px,#402ab4 407px,#4230c4 413px,#4538d8 419px,#463ee0 425px,#463adc 431px,#402ab5 444px,#402bb8 448px,#4537d5 457px,#463de0 463px,#463bdd 469px,#4433cd 475px,#402cb8 481px,#3f29b2 485px,#422fc3 491px,#4538d7 497px,#463de0 503px,#463adb 509px,#412dbd 518px,#3e27ab 524px,#4537d6 537px,#463cde 543px,#4639da 549px,#402ab5 562px,#4029b2 566px,#4332ca 575px,#4639da 581px,#463bdd 587px,#4536d4 593px,#3e27aa 606px,#4536d4 619px,#463bdd 625px,#4538d8 631px,#3f29b2 644px,#3f28ae 647px,#4536d3 660px,#463bdc 666px,#4539d8 672px,#402ab5 685px,#3f29b0 689px,#4537d5 702px,#463bdd 708px,#4538d8 714px,#4029b3 727px,#3f29b1 731px,#4538d7 744px,#463cde 750px,#4538d8 756px,#3f29b0 769px,#402ab3 772px,#4536d3 781px,#463de0 787px,#463ddf 793px,#4435d1 799px,#3f28ad 808px,#3e27aa 810px,#463cde 823px,#4742e6 829px,#473ee1 835px,#4332ca 844px,#4330c5 848px,#4435d1 854px,#4740e3 860px,#4747ec 866px,#4743e7 872px,#4434ce 881px,#4332c9 885px,#4536d4 891px,#4741e5 897px,#4747eb 903px,#4741e4 909px,#4330c5 918px,#422fc2 921px,#463de0 930px,#4746ea 936px,#4741e5 942px,#4538d8 946px,#402ab3 952px,#3f28af 953px,#422ebf 956px,#4538d8 960px,#463adb 961px)"></i>
<i style="top:312.9px;background:linear-gradient(90deg,#4230c3 0px,#402ab5 6px,#402ab4 10px,#4332cb 19px,#4639da 25px,#463ddf 31px,#4639d9 37px,#3f29b1 50px,#3f28af 53px,#4538d8 66px,#463ee0 72px,#463bde 78px,#422fc2 91px,#4332c8 97px,#463cdf 106px,#4740e3 112px,#463bdd 118px,#4331c6 127px,#4230c3 133px,#463ddf 146px,#463de0 152px,#4434cf 161px,#4230c3 167px,#4331c6 173px,#463bdc 182px,#473fe3 188px,#463cde 194px,#4331c8 203px,#422fc1 209px,#4332ca 215px,#463cdf 224px,#463ee1 230px,#4538d8 236px,#422fc2 245px,#4230c3 251px,#463de0 264px,#463ee1 270px,#4537d6 276px,#412dbd 285px,#412dbb 289px,#4331c7 295px,#463cdf 304px,#463ee1 310px,#4538d8 316px,#422fc2 325px,#422fc2 331px,#463ddf 344px,#463ee1 350px,#4538d8 356px,#4230c4 365px,#4331c6 371px,#463bdc 380px,#4740e3 386px,#463de0 392px,#4230c4 405px,#4331c7 411px,#463bdd 420px,#473fe2 426px,#463bdc 432px,#4331c7 441px,#4230c3 447px,#463cde 460px,#473ee2 466px,#4639da 472px,#4230c4 481px,#4230c3 487px,#463cdf 500px,#463de0 506px,#4537d7 512px,#422ec0 521px,#422ec0 527px,#463bdd 540px,#463cde 546px,#4536d4 552px,#402bb8 561px,#3f29b1 565px,#422ebf 571px,#4539d9 580px,#463cdf 586px,#4538d8 592px,#422fc2 601px,#412dbd 607px,#4331c7 613px,#463adb 622px,#463bdd 628px,#4536d3 634px,#412cba 643px,#402bb6 647px,#422fc1 653px,#4539d8 662px,#463bdd 668px,#4537d6 674px,#402ab4 687px,#402bb7 691px,#463ada 704px,#463cde 710px,#4537d6 716px,#412dbb 725px,#402ab4 729px,#422ebe 735px,#4538d8 744px,#463cdf 750px,#4639d9 756px,#4330c4 765px,#422fc1 771px,#4433cc 777px,#463ee1 786px,#473fe2 792px,#4538d8 798px,#422fc0 807px,#422ec0 811px,#4434ce 817px,#463de0 823px,#4743e7 829px,#473fe3 835px,#4331c8 844px,#4230c3 848px,#4537d5 854px,#4743e7 860px,#484aee 866px,#4745ea 872px,#4538d8 878px,#422fc1 884px,#4230c3 887px,#4741e5 896px,#4849ed 902px,#4745e9 908px,#463cde 912px,#412cba 918px,#3f29b0 920px,#402bb8 922px,#463adc 928px,#4747ec 934px,#4849ed 940px,#4639da 953px,#4740e4 959px,#4743e7 961px)"></i>
<i style="top:323.9px;background:linear-gradient(90deg,#4230c3 0px,#402ab3 6px,#3f29b2 10px,#4538d7 23px,#463de0 29px,#463cde 35px,#4230c3 48px,#422fc1 54px,#463bdd 67px,#473fe2 73px,#463bdd 79px,#4433cb 85px,#402ab4 91px,#402bb8 94px,#463adb 103px,#4741e5 109px,#4741e4 115px,#4538d8 121px,#402ab5 130px,#402bb8 133px,#4639da 142px,#473fe3 148px,#463de0 154px,#4536d3 160px,#422ebf 166px,#412dbc 170px,#463ee1 183px,#4742e6 189px,#463de0 195px,#422ec0 208px,#4230c3 212px,#463adc 221px,#473fe3 227px,#463de0 233px,#422ebf 246px,#422fc1 250px,#4639da 259px,#4740e3 265px,#473fe2 271px,#4435d1 280px,#4330c5 286px,#4331c8 292px,#463bdc 301px,#4740e3 307px,#463de0 313px,#422fc1 326px,#422fc1 330px,#463ee1 343px,#4740e4 349px,#463bdc 355px,#422fc0 364px,#412dbd 368px,#473ee1 381px,#4742e6 387px,#473ee1 393px,#412dbd 406px,#422fc1 410px,#463bdd 419px,#4740e4 425px,#463ee1 431px,#4535d2 437px,#412ebe 443px,#412dbb 447px,#4538d8 456px,#473fe3 462px,#473fe3 468px,#4538d8 474px,#412dbd 483px,#422ebf 487px,#463ada 496px,#4740e3 502px,#473ee1 508px,#4434cd 517px,#422fc1 523px,#4331c6 529px,#463adc 538px,#463ee1 544px,#463adc 550px,#422fc2 563px,#4230c4 569px,#463cdf 582px,#463de0 588px,#4435d0 597px,#422fc2 603px,#422ebf 607px,#463adb 620px,#463de0 626px,#463adb 632px,#422fc1 645px,#4230c4 651px,#463bdd 664px,#463bdd 670px,#4330c5 683px,#422fc1 689px,#4435d2 698px,#463de0 707px,#463cde 713px,#4230c4 726px,#422fc3 732px,#463bdc 745px,#463de0 751px,#4639d9 757px,#422fc1 766px,#412dbd 770px,#4433cc 776px,#463bdd 782px,#4741e5 788px,#473fe3 794px,#4331c7 807px,#4331c6 811px,#4741e5 824px,#4745e9 830px,#473fe2 836px,#4537d5 840px,#402ab3 846px,#3f28af 847px,#402bb6 849px,#463adb 855px,#4849ed 861px,#484ef1 867px,#4747eb 873px,#4537d6 879px,#422ebe 883px,#412cb9 885px,#4330c5 888px,#4740e3 894px,#484cef 900px,#484df1 906px,#463bdd 919px,#473fe3 925px,#484ef1 934px,#4850f2 943px,#484bef 956px,#484ef1 960px,#484ff2 961px)"></i>
<i style="top:334.9px;background:linear-gradient(90deg,#4332ca 0px,#422fc1 6px,#4230c3 12px,#463cde 25px,#473ee1 34px,#4435d1 43px,#422fc2 49px,#422fc0 53px,#463cdf 66px,#4741e5 75px,#463cde 81px,#4230c4 90px,#4330c5 94px,#463ee1 103px,#4745e9 109px,#4741e4 118px,#4537d5 124px,#422fc2 130px,#4331c6 134px,#463ee1 143px,#4742e6 149px,#473fe2 155px,#4535d2 161px,#412cb9 167px,#402bb8 170px,#463adc 179px,#4743e7 185px,#4744e8 191px,#463cdf 197px,#4331c8 203px,#402ab4 207px,#3f28ae 209px,#4537d6 218px,#4740e3 224px,#4741e5 230px,#463bdd 236px,#4331c6 242px,#402ab3 246px,#3f29b0 248px,#4538d7 257px,#4740e4 263px,#4742e7 269px,#463ddf 275px,#4433cc 281px,#402bb6 287px,#402cb8 290px,#4639da 299px,#4741e5 305px,#4741e5 311px,#463adb 317px,#4230c3 323px,#3f29b0 327px,#3f29b0 329px,#4538d8 338px,#4741e5 344px,#4742e6 350px,#463bdd 356px,#412cb9 365px,#402bb7 368px,#463adb 377px,#4743e7 383px,#4745e9 389px,#463ee1 395px,#4433cc 401px,#412cb9 405px,#402bb6 408px,#4639da 417px,#4742e6 423px,#4742e6 429px,#463bdc 435px,#412cba 444px,#412cba 447px,#463adc 456px,#4742e6 462px,#4742e6 468px,#463adb 474px,#402bb7 483px,#402bb7 486px,#463adb 495px,#4742e6 501px,#4741e5 507px,#463adb 513px,#402bb6 522px,#3f28ad 524px,#3f29b2 526px,#4538d7 535px,#473fe2 541px,#473fe2 547px,#4539d9 553px,#422fc1 562px,#412ebe 566px,#463bdd 579px,#473fe2 588px,#4639da 594px,#4330c5 600px,#3f28ad 606px,#4435d0 615px,#463cdf 621px,#473fe2 627px,#463bdc 633px,#402bb7 646px,#412dbc 650px,#4538d7 659px,#463de0 665px,#463cde 671px,#4536d3 677px,#412cbb 686px,#412dbd 690px,#4538d7 699px,#473ee1 705px,#463ddf 714px,#4332c9 723px,#412cba 729px,#422ebf 733px,#4639d9 742px,#473fe2 748px,#463de0 754px,#4536d3 760px,#3f29b1 769px,#422ebe 773px,#4539d8 779px,#4742e6 785px,#4741e5 794px,#4538d8 800px,#3f29b1 809px,#412cba 812px,#4538d7 818px,#4744e8 824px,#4848ec 833px,#463adb 846px,#473fe2 852px,#4850f2 861px,#4854f5 867px,#484bef 876px,#4741e5 885px,#4851f3 898px,#4755f6 907px,#484df1 920px,#4756f7 939px,#484cf0 952px,#4850f3 961px)"></i>
<i style="top:345.9px;background:linear-gradient(90deg,#4433cc 0px,#422ebf 6px,#4230c4 12px,#473ee1 25px,#4740e4 34px,#463adb 40px,#402cb8 49px,#3f28af 52px,#4536d4 61px,#4740e4 67px,#4746ea 76px,#473fe3 89px,#4742e6 98px,#484bef 111px,#473fe2 130px,#4848ec 149px,#463ee1 162px,#463adb 168px,#4849ed 187px,#4744e8 196px,#4536d5 209px,#4743e7 222px,#4745ea 231px,#4538d8 244px,#4538d7 250px,#4745e9 263px,#4744e8 272px,#463cde 278px,#4230c4 287px,#4331c7 291px,#473fe2 300px,#4746ea 309px,#473fe2 318px,#4536d3 327px,#4538d8 333px,#4744e8 342px,#4747eb 351px,#463bdd 364px,#463bdd 370px,#4849ed 383px,#4848ec 392px,#463adc 405px,#463bdd 411px,#4847ec 424px,#4745e9 433px,#463bdc 446px,#4746ea 459px,#4747eb 468px,#463adc 481px,#463adb 487px,#4746ea 500px,#4744e8 509px,#4434cf 522px,#4434ce 526px,#4741e5 539px,#4741e4 548px,#4539d9 554px,#402bb6 563px,#402ab3 566px,#4537d6 575px,#4740e3 581px,#4741e5 590px,#4537d7 599px,#4433cb 605px,#4435d1 611px,#473fe3 620px,#4741e5 629px,#463bdc 635px,#422ec0 644px,#412dbc 648px,#4538d7 657px,#473ee1 663px,#463de0 672px,#4536d3 678px,#412ebe 684px,#402bb7 688px,#4537d6 697px,#473fe2 703px,#4741e5 712px,#463adc 718px,#412dbc 727px,#402bb8 730px,#422fc2 734px,#4538d8 740px,#4740e4 746px,#4741e5 755px,#4537d6 768px,#463adb 774px,#4745e9 783px,#4747ec 792px,#463cde 801px,#4434cf 807px,#4434ce 811px,#4742e6 820px,#484ff1 829px,#484df0 848px,#475cfa 867px,#4853f5 886px,#475bf9 905px,#4850f2 918px,#4756f6 937px,#4747eb 946px,#463bde 952px,#463de0 956px,#4745e9 960px,#4746ea 961px)"></i>
<i style="top:356.9px;background:linear-gradient(90deg,#4432cb 0px,#402ab5 6px,#402ab4 9px,#4537d6 18px,#4740e3 24px,#4744e9 33px,#463de0 42px,#4536d3 51px,#4539d9 57px,#4849ed 70px,#484bee 83px,#484aed 96px,#484ff2 115px,#484aed 134px,#484ef1 153px,#4849ed 172px,#484ff2 191px,#4746ea 210px,#484df0 229px,#4746ea 248px,#484df0 267px,#4741e4 286px,#4747eb 299px,#484cef 312px,#4746ea 331px,#484ef1 350px,#4849ed 369px,#4850f3 388px,#4848ec 407px,#484ef1 426px,#4848ec 445px,#484ef1 464px,#4847ec 483px,#484df0 502px,#4744e8 521px,#4848ec 540px,#4741e5 553px,#4538d8 562px,#4538d8 568px,#4745e9 581px,#4746ea 594px,#4741e5 607px,#4848ec 626px,#463bdd 645px,#463ee1 654px,#4745e9 667px,#4639da 686px,#463de0 695px,#4747eb 708px,#473fe2 721px,#463adb 730px,#4848ec 749px,#4745e9 768px,#484ff2 787px,#4746eb 806px,#484df0 819px,#4855f6 832px,#484ff2 845px,#465efb 864px,#475cfa 873px,#4851f3 886px,#475af9 899px,#4854f5 908px,#4740e3 917px,#463cdf 921px,#4850f3 934px,#484ef1 940px,#473ee2 946px,#4331c8 950px,#402ab4 953px,#412dbc 955px,#4639da 959px,#473fe2 961px)"></i>
<i style="top:367.9px;background:linear-gradient(90deg,#463bdc 0px,#4537d6 9px,#4849ed 28px,#4848ec 41px,#4746ea 54px,#484ef1 73px,#4743e7 92px,#484ef1 111px,#4744e8 130px,#484ef1 149px,#4848ec 168px,#4850f3 187px,#484aed 206px,#484ff2 225px,#484aee 253px,#4850f3 272px,#484bef 291px,#4850f3 310px,#484aed 329px,#4850f3 348px,#4848ec 367px,#4850f3 386px,#4849ec 405px,#484ff2 424px,#4747ec 443px,#484ff2 462px,#4848ec 481px,#484ef1 509px,#4849ed 528px,#484df0 547px,#4746ea 566px,#484cf0 585px,#4747eb 604px,#484bef 632px,#4746ea 651px,#484aee 670px,#4746ea 689px,#484cf0 708px,#4747eb 727px,#484cef 755px,#4747eb 768px,#4852f4 787px,#484ef1 806px,#4756f6 825px,#4850f3 834px,#4741e4 843px,#473fe2 849px,#4757f7 862px,#4759f8 868px,#4849ed 877px,#463bdd 883px,#463bdc 887px,#484ef1 896px,#4854f5 902px,#484ef1 908px,#4743e7 912px,#4435d1 916px,#402bb7 920px,#412dbc 922px,#4538d8 926px,#4745ea 930px,#4852f4 936px,#4853f5 942px,#484aee 951px,#484df0 957px,#4853f5 961px)"></i>
<i style="top:378.9px;background:linear-gradient(90deg,#4747eb 0px,#4747eb 13px,#484ff2 32px,#4849ed 51px,#484df0 70px,#4745e9 79px,#4332c9 92px,#4434ce 96px,#4741e5 105px,#4745e9 114px,#473fe2 120px,#4433cb 129px,#4433cd 133px,#4740e4 142px,#4747eb 151px,#4740e3 160px,#4538d7 169px,#4745e9 182px,#4849ed 191px,#463ee1 204px,#463cdf 210px,#4849ed 223px,#4849ed 232px,#463cdf 245px,#463ddf 251px,#484bee 264px,#484aee 277px,#4745e9 290px,#484df0 309px,#463de0 328px,#484aee 347px,#4744e8 356px,#4639da 365px,#463adb 371px,#4848ec 384px,#4746ea 393px,#4539d9 406px,#4745e9 419px,#4848ec 428px,#473ee2 437px,#4538d7 443px,#4539d9 449px,#4745e9 458px,#4849ed 467px,#4740e3 476px,#4539d9 485px,#4746ea 498px,#4849ed 507px,#4740e3 520px,#4741e4 529px,#484cef 542px,#4848ec 570px,#484cef 583px,#4744e8 596px,#463ee1 605px,#484aed 624px,#4743e8 643px,#484bee 671px,#4745e9 690px,#484cf0 709px,#4745e9 728px,#484bef 747px,#4746ea 756px,#4639da 769px,#4848ec 782px,#484ef1 791px,#4744e8 810px,#4851f3 823px,#484ef1 832px,#4741e4 838px,#4435d1 842px,#402bb7 846px,#412cb8 848px,#463ddf 854px,#484ff1 860px,#4756f6 866px,#4851f3 872px,#4740e4 878px,#4330c5 884px,#4230c4 886px,#473fe2 892px,#4850f3 898px,#4758f8 904px,#484ef1 917px,#484ef1 923px,#4562fc 936px,#3f6eff 955px,#3b72fe 961px)"></i>
<i style="top:389.9px;background:linear-gradient(90deg,#4849ed 0px,#484bef 19px,#484df0 32px,#463de0 51px,#4848ec 70px,#4742e6 79px,#4538d8 85px,#4331c6 91px,#4331c6 95px,#463ddf 104px,#4742e6 113px,#463ddf 119px,#4330c5 128px,#4230c3 132px,#463bdd 141px,#4741e5 147px,#4741e5 153px,#4639da 159px,#402bb7 168px,#412cba 171px,#463bdd 180px,#4742e6 186px,#4742e6 192px,#463adb 198px,#402bb8 207px,#412cb9 210px,#463bdd 219px,#4742e6 225px,#473fe3 234px,#4536d3 240px,#412cb9 246px,#402bb7 249px,#463adc 258px,#4743e7 264px,#4743e7 273px,#4537d6 282px,#4332ca 288px,#4537d5 294px,#4743e7 303px,#4743e7 312px,#463bdc 318px,#412cb9 327px,#412dbb 330px,#463bdd 339px,#4742e6 345px,#4742e6 351px,#463bdc 357px,#412cb8 366px,#402cb8 369px,#463adc 378px,#4742e6 384px,#4742e6 390px,#463adb 396px,#402bb7 405px,#412cb9 408px,#463bdc 417px,#4742e6 423px,#4741e5 429px,#463adb 435px,#412cb9 444px,#412cbb 447px,#463bdd 456px,#4742e6 462px,#4742e6 468px,#463adc 474px,#402bb8 483px,#402bb8 486px,#463adb 495px,#4741e5 501px,#473fe2 510px,#4536d4 516px,#422ebe 522px,#412dbd 525px,#463adc 534px,#4743e7 540px,#4745e9 549px,#463adb 562px,#463adb 568px,#4744e9 581px,#4742e6 590px,#4639da 596px,#412dbd 605px,#422fc2 609px,#463cdf 618px,#4743e7 627px,#463ddf 636px,#4434ce 645px,#4536d3 651px,#4740e4 660px,#4744e8 669px,#463ee1 678px,#4536d4 687px,#4539d8 693px,#4742e6 702px,#4745e9 711px,#463ddf 720px,#4536d3 729px,#4742e6 742px,#4744e8 751px,#463de0 757px,#4433cb 763px,#412cb9 767px,#402bb7 770px,#463cde 779px,#4745e9 785px,#4745e9 794px,#463bdc 800px,#4230c4 806px,#422fc0 809px,#4741e5 818px,#484df1 824px,#4853f4 833px,#484aee 846px,#4853f5 855px,#4660fb 864px,#465ffb 873px,#4756f7 886px,#406dfe 905px,#337bfd 933px,#2e84f8 952px,#2e85f8 961px)"></i>
<i style="top:400.9px;background:linear-gradient(90deg,#473fe2 0px,#463bdd 9px,#4747eb 28px,#4741e5 37px,#4537d6 43px,#422ebf 49px,#412cba 52px,#4230c4 56px,#463adb 62px,#4747eb 71px,#4849ec 84px,#4747eb 97px,#484aee 116px,#4746ea 135px,#4849ed 148px,#473ee2 167px,#4747eb 186px,#473fe3 199px,#4639da 208px,#4746ea 227px,#473fe2 240px,#463adc 249px,#4744e8 262px,#4743e7 271px,#4538d7 280px,#4331c6 286px,#4330c5 290px,#463cde 299px,#4744e8 308px,#4740e4 317px,#4538d8 326px,#4639da 332px,#4745ea 345px,#4743e7 358px,#473ee1 367px,#4848ec 386px,#463ee1 405px,#4848ec 424px,#4740e3 443px,#4848ec 462px,#4742e6 475px,#463de0 484px,#4745e9 503px,#473fe2 512px,#4536d3 521px,#4536d3 527px,#4742e6 540px,#4740e3 549px,#4538d7 555px,#402bb7 564px,#412cba 567px,#4639d9 576px,#4741e5 585px,#463ee1 594px,#4435d2 603px,#4435d2 609px,#4740e4 622px,#473ee1 631px,#4537d6 637px,#412dbd 646px,#422fc2 650px,#463adc 659px,#4740e3 668px,#463cde 674px,#4434cf 680px,#412cba 686px,#412cb9 689px,#4537d6 698px,#463ee1 704px,#473ee1 713px,#4537d6 719px,#412cba 728px,#422ec0 732px,#463cdf 741px,#4745e9 750px,#473ee2 769px,#484bef 788px,#4744e8 797px,#4639da 806px,#463adb 810px,#4854f5 823px,#4466fd 836px,#3a74fe 855px,#317dfc 868px,#2e83f9 896px,#2d8bf3 924px,#2e85f8 952px,#307ffb 961px)"></i>
<i style="top:411.9px;background:linear-gradient(90deg,#4434cf 0px,#412dbb 6px,#412cb9 9px,#4538d7 18px,#4742e6 27px,#4743e7 36px,#4639d9 49px,#463adb 55px,#484aee 68px,#4756f7 81px,#475cfa 109px,#4853f4 203px,#4851f4 266px,#4848ec 285px,#4851f3 313px,#4757f7 376px,#4757f7 470px,#484cef 533px,#4849ed 546px,#463adc 565px,#4848ec 584px,#484aee 626px,#4740e4 645px,#4746ea 664px,#473ee1 683px,#463ee1 692px,#4746ea 711px,#4740e4 730px,#4850f3 749px,#475cfa 791px,#475dfa 810px,#416cfe 823px,#317dfc 836px,#2b91ef 864px,#2994ed 892px,#2d8bf4 920px,#327cfc 939px,#4366fd 958px,#4563fd 961px)"></i>
<i style="top:422.9px;background:linear-gradient(90deg,#463cdf 0px,#463ada 9px,#484aee 28px,#475af9 70px,#4564fd 98px,#4563fc 239px,#465ffb 302px,#4466fd 396px,#4563fc 490px,#4756f6 553px,#4854f5 572px,#475af9 614px,#4854f5 677px,#4756f7 719px,#465ffb 747px,#3579fd 810px,#2e87f7 838px,#2b91ef 866px,#2d89f5 894px,#307ffb 907px,#426afe 926px,#4853f5 945px,#4849ed 958px,#4848ec 961px)"></i>
<i style="top:433.9px;background:linear-gradient(90deg,#4851f3 0px,#465efb 42px,#4660fc 70px,#475dfa 133px,#4465fd 196px,#4465fd 259px,#4465fd 400px,#4561fc 463px,#4660fb 674px,#406cfe 768px,#317dfc 810px,#3579fd 829px,#3b73fe 848px,#3975fe 867px,#4466fd 895px,#4849ed 923px,#4742e6 936px,#4537d6 945px,#4331c7 951px,#4331c6 955px,#4435d1 961px)"></i>
<i style="top:444.9px;background:linear-gradient(90deg,#4660fc 0px,#4563fc 42px,#4757f7 70px,#4848ec 89px,#4745e9 131px,#4854f5 194px,#4852f4 236px,#475cfa 278px,#475af9 306px,#4852f4 348px,#4853f5 390px,#484cef 453px,#4755f6 516px,#465efb 558px,#475bf9 586px,#4755f6 614px,#4660fb 708px,#475af9 771px,#4367fd 799px,#4464fd 818px,#4849ed 846px,#4850f2 865px,#4746ea 893px,#473fe2 906px,#4331c7 919px,#4331c6 925px,#4537d5 938px,#4433cc 951px,#4435d1 957px,#4539d9 961px)"></i>
<i style="top:455.9px;background:linear-gradient(90deg,#4561fc 0px,#4758f8 42px,#484ef1 61px,#4741e5 74px,#4332c9 87px,#422fc1 93px,#4536d3 112px,#4332ca 125px,#4230c3 134px,#4434cf 153px,#4537d6 172px,#463ee1 191px,#4539d9 233px,#4538d7 246px,#4745e9 274px,#4744e8 302px,#463adb 330px,#4639da 349px,#4536d3 362px,#4539d9 375px,#463ddf 388px,#4537d5 416px,#4537d5 429px,#4434ce 448px,#4537d6 467px,#4536d4 486px,#463de0 505px,#463ddf 524px,#484aee 552px,#484df0 571px,#4745e9 590px,#463cdf 609px,#4744e8 637px,#484cef 700px,#484bef 728px,#4743e8 747px,#4539d9 766px,#484bef 794px,#484ef1 813px,#4746ea 826px,#4539d9 835px,#412dbb 844px,#412cb9 848px,#4435d1 857px,#463adb 866px,#4536d4 875px,#4230c4 884px,#4331c6 890px,#4537d6 903px,#4536d3 912px,#4332ca 921px,#4434cf 927px,#4742e6 940px,#4758f8 959px,#475bf9 961px)"></i>
<i style="top:466.9px;background:linear-gradient(90deg,#4850f3 0px,#484bee 28px,#4741e5 56px,#463cde 75px,#4332c9 94px,#4433cd 113px,#412ebd 132px,#422ebf 151px,#412cb8 164px,#422ebf 173px,#4433cd 186px,#4433cc 195px,#412ebd 208px,#412dbc 217px,#422fc0 230px,#402bb8 243px,#422ebf 252px,#4435d0 265px,#4435d1 278px,#4434ce 297px,#4433cd 310px,#412cba 329px,#4230c3 348px,#412cb9 361px,#412dbc 370px,#4433cc 383px,#4433cc 392px,#412dbc 405px,#412cb9 414px,#422fc1 427px,#412cb8 446px,#4230c3 465px,#402cb8 484px,#4332cb 503px,#4331c7 512px,#412cba 525px,#4330c5 534px,#4537d6 547px,#463adc 575px,#4537d5 588px,#412cb8 607px,#422fc1 616px,#4434ce 629px,#4332c9 648px,#4434cf 690px,#4639da 709px,#4537d5 737px,#4434ce 750px,#412dbc 763px,#412dbc 769px,#4435d1 782px,#4639d9 795px,#4741e5 823px,#463cde 851px,#463cdf 864px,#4536d3 877px,#4332ca 886px,#4537d6 895px,#4745e9 908px,#4758f8 927px,#406dfe 940px,#307ffb 949px,#2b91ef 958px,#2796eb 961px)"></i>
<i style="top:477.9px;background:linear-gradient(90deg,#4639da 0px,#4538d8 28px,#4330c5 47px,#4433cd 56px,#463de0 69px,#4743e7 82px,#473fe3 110px,#4332ca 152px,#4331c7 165px,#4435d1 184px,#4433cd 197px,#422ebf 216px,#4434cf 258px,#4433cb 271px,#412dbc 284px,#412cba 293px,#4331c6 306px,#4331c7 319px,#4330c5 338px,#4537d5 380px,#4536d3 393px,#4331c8 412px,#4434cf 506px,#4331c8 525px,#4433cd 544px,#4331c6 563px,#4435d1 591px,#4433cb 619px,#4331c6 632px,#412cba 645px,#412cbb 658px,#412dbc 671px,#402bb8 684px,#4331c7 703px,#4330c5 716px,#412dbd 729px,#4536d3 757px,#4537d6 776px,#4434cf 789px,#422fc0 802px,#4331c6 808px,#4740e3 821px,#484ff2 834px,#4758f8 853px,#4755f6 881px,#475cfa 894px,#3e70ff 907px,#2f82f9 916px,#259de7 929px,#16aeda 938px,#01b8c9 944px,#02bbc3 946px,#23c1af 952px,#3eca8f 961px)"></i>
<i style="top:488.9px;background:linear-gradient(90deg,#412dbc 0px,#422fc2 13px,#4433cb 26px,#4230c4 45px,#4433cd 54px,#4742e6 67px,#4852f4 80px,#475cfa 99px,#4755f6 127px,#4848ec 155px,#4743e7 197px,#463de0 225px,#4740e4 253px,#463adb 272px,#4434ce 285px,#4433cc 294px,#463ddf 322px,#484bef 385px,#4745e9 427px,#4747eb 490px,#463ee1 532px,#4537d5 545px,#422ebe 558px,#402bb8 564px,#4230c3 573px,#4538d8 586px,#473ee1 599px,#463de0 618px,#4332ca 646px,#4230c4 665px,#4433cc 707px,#422fc0 726px,#4331c7 735px,#473ee1 754px,#4744e8 767px,#4741e5 780px,#4434d0 799px,#4536d3 805px,#484bee 818px,#4465fd 831px,#327bfc 844px,#2d8cf3 863px,#23a0e5 891px,#1babde 900px,#0cb3d3 906px,#01b8c9 910px,#06bcc0 913px,#26c2ac 919px,#3ac994 925px,#50cc80 929px,#94ca4a 938px,#c0c32d 944px,#d8be28 948px,#ebba32 952px,#fabb3d 956px,#fec338 960px,#fec537 961px)"></i>
<i style="top:499.9px;background:linear-gradient(90deg,#412ebe 0px,#4331c8 13px,#4742e7 41px,#4757f7 60px,#4269fe 73px,#2f81fa 92px,#2d89f5 111px,#2f81fa 139px,#3d70ff 181px,#4465fd 223px,#475cfa 265px,#4853f5 293px,#4465fd 335px,#3875fe 377px,#3c71ff 471px,#406cfe 499px,#475cfa 527px,#4741e5 555px,#463ee1 568px,#4852f4 596px,#4755f6 615px,#4743e7 657px,#4743e7 720px,#484cef 739px,#465efb 767px,#4562fc 795px,#3f6dfe 808px,#317efb 817px,#21a3e3 836px,#11b1d6 845px,#01b8c9 851px,#05bbc1 855px,#23c1af 864px,#39c895 877px,#52cc7e 886px,#74cc62 895px,#b1c635 908px,#cdc028 914px,#e6bb2d 920px,#f5ba3a 924px,#fdbd3d 927px,#fbd22f 936px,#f5e725 945px,#f9fb15 958px,#f9fb15 961px)"></i>
<i style="top:510.9px;background:linear-gradient(90deg,#463cde 0px,#484cef 19px,#4464fd 38px,#3b73fe 47px,#2f82f9 56px,#249fe5 75px,#18aedb 88px,#04b6cd 101px,#01b9c7 110px,#02bac3 129px,#01b8ca 148px,#19addc 190px,#2a92ee 284px,#2797eb 312px,#1baade 354px,#10b2d5 396px,#16afd9 459px,#20a4e3 501px,#2c8ff0 529px,#317dfc 548px,#3a74fe 567px,#2f81fa 609px,#337bfd 637px,#3f6eff 665px,#406cfe 693px,#3974fe 721px,#2d89f6 749px,#1ea7e1 791px,#16afd9 800px,#02b7cb 809px,#02bbc3 813px,#26c2ad 822px,#3cc991 831px,#66cd6d 840px,#acc739 853px,#c6c22a 859px,#dbbd29 865px,#f4ba39 874px,#fbbc3d 878px,#fec736 887px,#f5e526 915px,#f6f11e 934px,#f6f01f 953px,#f5eb23 959px,#f5e924 961px)"></i>
<i style="top:521.9px;background:linear-gradient(90deg,#4367fd 0px,#3677fe 13px,#2e85f8 22px,#21a3e3 41px,#14b0d8 50px,#03b7cc 56px,#02bbc3 60px,#23c1af 69px,#3dc991 82px,#6fcd66 101px,#88cb53 114px,#95ca4a 127px,#95ca49 146px,#80cc59 174px,#47cb87 237px,#38c896 265px,#35c79a 293px,#3fca8e 321px,#6acd6a 363px,#7dcc5b 391px,#80cc59 419px,#78cc5f 447px,#65cd6e 475px,#42ca8b 503px,#24c1af 531px,#0cbdbc 544px,#02bac4 553px,#03b7cc 572px,#02b7cb 614px,#0bb3d2 642px,#17aeda 670px,#16afd9 698px,#0ab4d2 717px,#01b8c8 730px,#03bbc2 736px,#26c2ac 755px,#3fca8e 774px,#62cd70 787px,#a9c73b 806px,#cac129 815px,#debc2a 821px,#f7ba3c 830px,#fec13a 836px,#f6de29 855px,#f6ef20 874px,#f6f21e 893px,#f6e028 921px,#fec13a 949px,#f8ba3d 955px,#e8bb2e 961px)"></i>
<i style="top:532.9px;background:linear-gradient(90deg,#19addc 0px,#02b7cb 13px,#02bac4 17px,#12beb9 23px,#26c2ac 29px,#41ca8c 42px,#8acb52 61px,#b6c532 74px,#cdc028 83px,#e4bb2c 96px,#f6ba3b 115px,#fdbd3d 143px,#f5ba3a 206px,#e5bb2c 269px,#e8bb2e 311px,#f6ba3b 353px,#fdbd3d 416px,#f9ba3d 458px,#edba33 486px,#d5be28 514px,#bfc32e 533px,#9fc942 561px,#8dcb4f 589px,#75cc61 652px,#71cd64 680px,#7acc5e 699px,#8ecb4e 718px,#bdc32e 746px,#d5be28 759px,#ebba31 772px,#f8ba3d 781px,#fec13a 790px,#f7dc2a 818px,#f5e825 837px,#f5ea24 856px,#f6dd29 875px,#fec437 894px,#fcbc3d 900px,#f4ba39 904px,#dcbd29 913px,#cbc129 919px,#97ca47 938px,#76cc60 951px,#5acc78 960px,#57cc7a 961px)"></i>
<i style="top:543.9px;background:linear-gradient(90deg,#75cc61 0px,#b5c533 28px,#cdc028 41px,#e3bc2c 60px,#edba33 79px,#e9bb30 142px,#f7ba3c 205px,#febe3c 268px,#fdbd3d 331px,#f3ba39 425px,#f6ba3b 519px,#e8bb2e 613px,#e6bb2d 676px,#fabb3d 739px,#fec239 767px,#fec735 795px,#fec239 823px,#fabb3d 836px,#efba35 845px,#d6be28 858px,#c5c22a 864px,#a7c73c 873px,#5acc77 892px,#3dc991 901px,#28c2ab 914px,#10beba 927px,#06bcc0 940px,#01b9c7 959px,#01b8c8 961px)"></i>
<i style="top:554.9px;background:linear-gradient(90deg,#efba35 0px,#e9bb2f 28px,#d6be28 47px,#c0c32d 60px,#a1c840 73px,#55cc7c 101px,#3dc990 114px,#31c6a0 133px,#30c5a2 152px,#38c896 180px,#4dcc82 208px,#73cd63 250px,#81cc59 278px,#7dcc5c 306px,#68cd6c 334px,#44cb8a 376px,#3bc993 404px,#3eca8f 446px,#4ecc81 474px,#8ecb4f 537px,#a0c841 565px,#b1c636 659px,#b4c534 701px,#a6c83c 743px,#92ca4c 771px,#6fcd66 799px,#3fca8e 827px,#26c2ac 846px,#05bbc1 859px,#01b8ca 865px,#18addb 878px,#259ce7 897px,#2a93ee 916px,#22a1e4 958px,#22a2e4 961px)"></i>
<i style="top:565.9px;background:linear-gradient(90deg,#ddbd29 0px,#c6c22a 13px,#a3c83e 26px,#5ecd74 45px,#3eca8f 54px,#2cc4a7 63px,#17bfb6 69px,#06bcc0 73px,#02b7ca 77px,#1caadf 86px,#2c8ff1 99px,#317dfc 108px,#406dfe 121px,#416cfe 134px,#2f82fa 176px,#2e85f8 204px,#2e84f8 223px,#2b90ef 242px,#22a2e4 270px,#22a1e4 298px,#2f82f9 392px,#327cfc 420px,#2a92ee 483px,#269ae9 511px,#259be8 539px,#16afda 567px,#08b5d0 586px,#09b4d1 649px,#01b8c9 691px,#02b7cb 719px,#0bb3d2 738px,#1da8e0 766px,#2c8ff0 794px,#2d88f6 813px,#2e85f8 841px,#3678fd 860px,#4269fe 879px,#4561fc 898px,#4367fd 917px,#3578fd 936px,#2e87f7 955px,#2d89f5 961px)"></i>
<i style="top:576.9px;background:linear-gradient(90deg,#53cc7d 0px,#3bc993 13px,#2ac3a9 26px,#13beb9 35px,#02bbc3 41px,#01b8ca 45px,#1baade 58px,#2896eb 71px,#2f81fa 80px,#3f6efe 86px,#4759f8 92px,#463ddf 101px,#422fc1 110px,#412cba 116px,#412ebe 125px,#463bdd 144px,#4848ec 157px,#484df0 176px,#4741e5 195px,#4331c6 214px,#422ebf 223px,#4330c4 232px,#463ddf 245px,#484ef1 258px,#4758f8 271px,#4756f7 290px,#4848ec 318px,#484aed 360px,#463de0 388px,#4435d1 407px,#4434ce 420px,#4742e6 448px,#484cf0 490px,#4747eb 509px,#4537d5 528px,#4434ce 537px,#4537d7 546px,#4853f5 565px,#4562fc 578px,#4465fd 597px,#4756f6 639px,#4852f4 658px,#4269fe 700px,#4269fe 728px,#465dfa 756px,#4848ec 775px,#4332c9 794px,#422fc1 803px,#4332c8 812px,#4745e9 831px,#484ef1 844px,#4849ed 886px,#484ef1 914px,#4367fd 956px,#4368fe 960px,#4368fe 961px)"></i>
<i style="top:587.9px;background:linear-gradient(90deg,#01b8c9 0px,#09b4d1 13px,#1baade 32px,#2d87f6 74px,#3678fd 87px,#4466fd 100px,#4756f6 119px,#4853f5 161px,#484bee 189px,#473ee1 217px,#4741e5 259px,#463bdd 301px,#463ddf 343px,#4639da 371px,#4230c3 399px,#422fc1 412px,#463bdd 454px,#473fe2 496px,#463de0 538px,#4742e6 580px,#463ee1 622px,#4747eb 685px,#4743e7 748px,#463bdd 790px,#463de0 809px,#4848ec 837px,#4745e9 900px,#484cef 942px,#484ff2 961px)"></i>
<i style="top:598.9px;background:linear-gradient(90deg,#1da8e0 0px,#2797eb 42px,#327cfc 84px,#4269fe 112px,#4759f8 154px,#4743e7 248px,#4332ca 290px,#4331c6 309px,#463adb 351px,#463bdc 379px,#4537d6 407px,#473ee1 470px,#463ee1 533px,#4536d5 596px,#4538d8 638px,#473fe2 701px,#4745e9 795px,#484bee 858px,#4743e7 952px,#4743e7 961px)"></i>
<i style="top:609.9px;background:linear-gradient(90deg,#249ee6 0px,#2d8df2 42px,#327cfc 70px,#416bfe 98px,#4853f5 161px,#4741e5 255px,#4537d5 297px,#4538d7 325px,#463de0 367px,#463de0 508px,#4538d7 550px,#4332ca 592px,#4332ca 620px,#463bdc 683px,#4848ec 824px,#4746ea 887px,#4740e3 950px,#473fe3 959px,#473fe3 961px)"></i>
<i style="top:620.9px;background:linear-gradient(90deg,#2b90f0 0px,#307ffb 42px,#4367fd 84px,#4849ed 147px,#4741e5 189px,#4740e4 252px,#463cde 346px,#4639da 557px,#4537d5 620px,#4743e7 831px,#4740e3 925px,#473fe2 953px,#473ee2 959px,#473ee2 961px)"></i>
<i style="top:631.9px;background:linear-gradient(90deg,#327cfc 0px,#4563fc 63px,#4850f3 105px,#463ddf 147px,#4536d4 175px,#463cde 238px,#4536d2 379px,#4230c4 442px,#422fc1 470px,#4434ce 512px,#463adb 554px,#463bdd 617px,#4536d4 711px,#4538d7 774px,#473fe2 868px,#473ee1 931px,#463ee1 959px,#463ee1 961px)"></i>
<i style="top:642.9px;background:linear-gradient(90deg,#4564fd 0px,#4854f5 63px,#463adb 157px,#4538d8 199px,#4537d6 262px,#412cbb 403px,#3f29b0 431px,#402ab3 494px,#4434cf 536px,#4639da 564px,#463adb 606px,#4331c8 700px,#4330c5 742px,#463cdf 883px,#463ee1 946px,#463ee1 959px,#463ee1 961px)"></i>
<i style="top:653.9px;background:linear-gradient(90deg,#4852f4 0px,#473fe2 141px,#4539d9 235px,#4330c5 329px,#412cba 423px,#412cb8 465px,#4331c7 507px,#4538d8 549px,#463adb 591px,#4434ce 654px,#422fc0 717px,#4331c6 780px,#463bdd 874px,#463ee1 937px,#463ee1 956px,#463ee1 960px,#463ee1 961px)"></i>
<i style="top:664.9px;background:linear-gradient(90deg,#4747eb 0px,#463cdf 211px,#4435d1 352px,#4535d2 446px,#463bdd 540px,#463adc 603px,#4432cb 697px,#4332ca 760px,#463adc 854px,#463ee1 948px,#463ee1 961px)"></i>
<i style="top:675.9px;background:linear-gradient(90deg,#4743e7 0px,#463cdf 474px,#4539d9 685px,#4639d9 779px,#463ee1 920px,#463ee1 948px,#463ee1 961px)"></i>
<i style="top:686.9px;background:linear-gradient(90deg,#4747eb 0px,#4741e4 141px,#4743e7 352px,#463cde 493px,#4536d4 556px,#4538d7 619px,#463cdf 713px,#463ee1 924px,#463ee1 952px,#463ee1 961px)"></i>
<i style="top:697.9px;background:linear-gradient(90deg,#4853f4 0px,#4744e8 141px,#4743e7 352px,#4740e4 446px,#4537d6 509px,#4331c7 551px,#4330c4 579px,#463cde 673px,#473ee1 814px,#463ee1 955px,#463ee1 961px)"></i>
<i style="top:708.9px;background:linear-gradient(90deg,#4563fd 0px,#4853f5 94px,#4743e7 188px,#4537d5 329px,#4740e3 423px,#473fe2 486px,#4538d8 580px,#4740e3 674px,#473fe2 885px,#473ee1 948px,#473ee1 961px)"></i>
<i style="top:719.9px;background:linear-gradient(90deg,#3777fe 0px,#4269fe 63px,#484bef 157px,#463cde 251px,#4433cc 314px,#4433cd 342px,#473fe2 405px,#4745e9 468px,#4741e6 784px,#473fe2 925px,#473ee2 953px,#473ee1 959px,#473ee1 961px)"></i>
<i style="top:730.9px;background:linear-gradient(90deg,#2e86f8 0px,#317dfc 42px,#406cfe 84px,#4853f5 147px,#4746ea 210px,#4742e6 304px,#484aee 445px,#473fe2 919px,#473ee2 961px)"></i>
<i style="top:741.9px;background:linear-gradient(90deg,#2d8bf4 0px,#2e83f9 42px,#3678fe 70px,#4563fd 112px,#484ef1 175px,#484aee 238px,#4851f3 379px,#4743e7 590px,#473fe2 906px,#473ee1 948px,#473ee1 961px)"></i>
<i style="top:752.9px;background:linear-gradient(90deg,#2e87f7 0px,#307efb 42px,#406dfe 84px,#4854f6 147px,#484bef 210px,#4854f5 351px,#484ef1 445px,#4741e4 539px,#4536d3 602px,#4434cf 644px,#463de0 738px,#463ee1 949px,#463ee1 958px,#463ee1 961px)"></i>
<i style="top:763.9px;background:linear-gradient(90deg,#3579fd 0px,#416bfe 63px,#4755f6 126px,#4849ed 189px,#484cf0 400px,#4744e8 494px,#463adb 557px,#4331c8 620px,#4433cb 662px,#463adb 725px,#463ee1 819px,#463ee1 960px,#463ee1 961px)"></i>
<i style="top:774.9px;background:linear-gradient(90deg,#4465fd 0px,#4854f6 94px,#4744e9 188px,#463cdf 399px,#4740e3 493px,#4639da 634px,#463ee1 845px,#463ee1 939px,#463ee1 958px,#463ee1 961px)"></i>
<i style="top:785.9px;background:linear-gradient(90deg,#4854f5 0px,#4744e8 141px,#463bdd 282px,#4434d0 376px,#463cdf 470px,#4740e3 564px,#463ee1 880px,#463ee1 943px,#463ee1 956px,#463ee1 960px,#463ee1 961px)"></i>
<i style="top:796.9px;background:linear-gradient(90deg,#4848ec 0px,#473fe3 211px,#463ee1 352px,#4741e6 493px,#473fe2 587px,#463ee1 903px,#463ee1 945px,#463ee1 958px,#463ee1 961px)"></i>
<i style="top:807.9px;background:linear-gradient(90deg,#4741e5 0px,#473fe2 211px,#4743e7 422px,#463cde 485px,#4434cf 527px,#4433cd 555px,#463cde 618px,#473fe2 712px,#463ee1 923px,#463ee1 951px,#463ee1 960px,#463ee1 961px)"></i>
<i style="top:818.9px;background:linear-gradient(90deg,#473fe2 0px,#473fe3 316px,#4741e5 410px,#463cdf 473px,#4434cd 536px,#4536d2 578px,#463de0 641px,#463ee1 957px,#463ee1 961px)"></i>
<i style="top:829.9px;background:linear-gradient(90deg,#463ee1 0px,#473fe2 316px,#484aee 457px,#4740e3 598px,#473ee2 914px,#473ee1 956px,#473ee1 960px,#473ee1 961px)"></i>
<i style="top:840.9px;background:linear-gradient(90deg,#463ee1 0px,#473fe2 316px,#484ff2 457px,#484df1 520px,#4741e5 614px,#4741e5 708px,#4852f4 849px,#4854f5 943px,#4853f4 956px,#4852f4 960px,#4852f4 961px)"></i>
<i style="top:851.9px;background:linear-gradient(90deg,#463ee1 0px,#473fe2 316px,#4849ed 457px,#4745e9 551px,#4741e5 645px,#484aee 708px,#465ffb 771px,#3c71ff 813px,#2f80fa 855px,#2d87f6 897px,#2e85f8 939px,#2f81fa 958px,#2f80fa 961px)"></i>
</div>
<div id="cb"></div>
<svg width="1288" height="1012" viewBox="0 0 1288 1012">
<defs><clipPath id="cp"><rect x="102.0" y="44.0" width="961.0" height="858.0"/></clipPath></defs>
<g clip-path="url(#cp)">
<path d="M104.9 42.0 L104.9 44.1 L105.0 46.3 L105.0 48.5 L105.0 50.6 L105.0 52.8 L105.1 55.0 L105.1 57.1 L105.1 59.3 L105.2 61.4 L105.2 63.6 L105.2 65.8 L105.3 67.9 L105.3 70.1 L105.3 72.2 L105.4 74.4 L105.4 76.6 L105.4 78.7 L105.5 80.9 L105.5 83.0 L105.5 85.2 L105.6 87.4 L105.6 89.5 L105.7 91.7 L105.7 93.8 L105.7 96.0 L105.8 98.2 L105.8 100.3 L105.9 102.5 L105.9 104.6 L105.9 106.8 L106.0 109.0 L106.0 111.1 L106.1 113.3 L106.1 115.4 L106.2 117.6 L106.2 119.8 L106.3 121.9 L106.3 124.1 L106.4 126.2 L106.4 128.4 L106.5 130.6 L106.5 132.7 L106.6 134.9 L106.6 137.0 L106.7 139.2 L106.7 141.4 L106.8 143.5 L106.8 145.7 L106.9 147.8 L106.9 150.0 L107.0 152.2 L107.0 154.3 L107.1 156.5 L107.2 158.6 L107.2 160.8 L107.3 163.0 L107.3 165.1 L107.4 167.3 L107.5 169.4 L107.5 171.6 L107.6 173.8 L107.7 175.9 L107.7 178.1 L107.8 180.2 L107.9 182.4 L107.9 184.6 L108.0 186.7 L108.1 188.9 L108.2 191.0 L108.2 193.2 L108.3 195.4 L108.4 197.5 L108.5 199.7 L108.5 201.8 L108.6 204.0 L108.7 206.2 L108.8 208.3 L108.9 210.5 L108.9 212.6 L109.0 214.8 L109.1 217.0 L109.2 219.1 L109.3 221.3 L109.4 223.4 L109.5 225.6 L109.5 227.8 L109.6 229.9 L109.7 232.1 L109.8 234.2 L109.9 236.4 L110.0 238.6 L110.1 240.7 L110.2 242.9 L110.3 245.0 L110.4 247.2 L110.5 249.4 L110.6 251.5 L110.7 253.7 L110.9 255.8 L111.0 258.0 L111.1 260.2 L111.2 262.3 L111.3 264.5 L111.4 266.6 L111.5 268.8 L111.7 271.0 L111.8 273.1 L111.9 275.3 L112.0 277.4 L112.1 279.6 L112.3 281.8 L112.4 283.9 L112.5 286.1 L112.7 288.2 L112.8 290.4 L112.9 292.6 L113.1 294.7 L113.2 296.9 L113.4 299.0 L113.5 301.2 L113.7 303.4 L113.8 305.5 L114.0 307.7 L114.1 309.8 L114.3 312.0 L114.4 314.2 L114.6 316.3 L114.7 318.5 L114.9 320.6 L115.1 322.8 L115.2 325.0 L115.4 327.1 L115.6 329.3 L115.8 331.4 L115.9 333.6 L116.1 335.7 L116.3 337.9 L116.5 340.1 L116.7 342.2 L116.9 344.4 L117.1 346.5 L117.2 348.7 L117.4 350.9 L117.6 353.0 L117.8 355.2 L118.1 357.3 L118.3 359.5 L118.5 361.7 L118.7 363.8 L118.9 366.0 L119.1 368.1 L119.4 370.3 L119.6 372.5 L119.8 374.6 L120.0 376.8 L120.3 378.9 L120.5 381.1 L120.8 383.3 L121.0 385.4 L121.3 387.6 L121.5 389.7 L121.8 391.9 L122.0 394.0 L122.3 396.2 L122.6 398.4 L122.8 400.5 L123.1 402.7 L123.4 404.8 L123.7 407.0 L123.9 409.2 L124.2 411.3 L124.5 413.5 L124.8 415.6 L125.1 417.8 L125.4 420.0 L125.7 422.1 L126.1 424.3 L126.4 426.4 L126.7 428.6 L127.0 430.8 L127.4 432.9 L127.7 435.1 L128.0 437.2 L128.4 439.4 L128.7 441.5 L129.1 443.7 L129.4 445.9 L129.8 448.0 L130.2 450.2 L130.5 452.3 L130.9 454.5 L131.3 456.7 L131.7 458.8 L132.1 461.0 L132.5 463.1 L132.9 465.3 L133.3 467.4 L133.7 469.6 L134.2 471.8 L134.6 473.9 L135.0 476.1 L135.5 478.2 L135.9 480.4 L136.4 482.6 L136.8 484.7 L137.3 486.9 L137.8 489.0 L138.2 491.2 L138.7 493.3 L139.2 495.5 L139.7 497.7 L140.2 499.8 L140.7 502.0 L141.3 504.1 L141.8 506.3 L142.3 508.5 L142.9 510.6 L143.4 512.8 L144.0 514.9 L144.5 517.1 L145.1 519.2 L145.7 521.4 L146.3 523.6 L146.9 525.7 L147.5 527.9 L148.1 530.0 L148.7 532.2 L149.3 534.3 L150.0 536.5 L150.6 538.7 L151.3 540.8 L151.9 543.0 L152.6 545.1 L153.3 547.3 L154.0 549.4 L154.7 551.6 L155.4 553.8 L156.1 555.9 L156.8 558.1 L157.6 560.2 L158.3 562.4 L159.1 564.5 L159.8 566.7 L160.6 568.9 L161.4 571.0 L162.2 573.2 L163.0 575.3 L163.9 577.5 L164.7 579.6 L165.5 581.8 L166.4 584.0 L167.3 586.1 L168.1 588.3 L169.0 590.4 L169.9 592.6 L170.9 594.7 L171.8 596.9 L172.7 599.1 L173.7 601.2 L174.7 603.4 L175.7 605.5 L176.7 607.7 L177.7 609.8 L178.7 612.0 L179.7 614.2 L180.8 616.3 L181.8 618.5 L182.9 620.6 L184.0 622.8 L185.1 624.9 L186.3 627.1 L187.4 629.3 L188.6 631.4 L189.7 633.6 L190.9 635.7 L192.1 637.9 L193.4 640.0 L194.6 642.2 L195.8 644.3 L197.1 646.5 L198.4 648.7 L199.7 650.8 L201.0 653.0 L202.4 655.1 L203.8 657.3 L205.1 659.4 L206.5 661.6 L208.0 663.8 L209.4 665.9 L210.9 668.1 L212.3 670.2 L213.8 672.4 L215.4 674.5 L216.9 676.7 L218.5 678.8 L220.0 681.0 L221.6 683.2 L223.3 685.3 L224.9 687.5 L226.6 689.6 L228.3 691.8 L230.0 693.9 L231.7 696.1 L233.5 698.3 L235.3 700.4 L237.1 702.6 L239.0 704.7 L240.8 706.9 L242.7 709.0 L244.6 711.2 L246.6 713.3 L248.5 715.5 L250.5 717.7 L252.5 719.8 L254.6 722.0 L256.7 724.1 L258.8 726.3 L260.9 728.4 L263.1 730.6 L265.3 732.8 L267.5 734.9 L269.8 737.1 L272.0 739.2 L274.4 741.4 L276.7 743.5 L279.1 745.7 L281.5 747.9 L283.9 750.0 L286.4 752.2 L288.9 754.3 L291.5 756.5 L294.1 758.6 L296.7 760.8 L299.4 763.0 L302.0 765.1 L304.8 767.3 L307.5 769.4 L310.3 771.6 L313.2 773.7 L316.1 775.9 L319.0 778.1 L322.0 780.2 L325.0 782.4 L328.0 784.5 L331.1 786.7 L334.2 788.8 L337.4 791.0 L340.6 793.2 L343.8 795.3 L347.1 797.5 L350.5 799.6 L353.9 801.8 L357.3 803.9 L360.8 806.1 L364.4 808.3 L367.9 810.4 L371.6 812.6 L375.2 814.7 L379.0 816.9 L382.8 819.0 L386.6 821.2 L390.5 823.4 L394.4 825.5 L398.4 827.7 L402.5 829.8 L406.6 832.0 L410.7 834.2 L415.0 836.3 L419.2 838.5 L423.6 840.6 L428.0 842.8 L432.4 844.9 L436.9 847.1 L441.5 849.3 L446.2 851.4 L450.9 853.6 L455.6 855.7 L460.5 857.9 L465.4 860.1 L470.3 862.2 L475.4 864.4 L480.5 866.5 L485.7 868.7 L490.9 870.9 L496.2 873.0 L501.6 875.2 L507.1 877.3 L512.6 879.5 L518.2 881.6 L523.9 883.8 L529.7 886.0 L535.6 888.1 L541.5 890.3 L547.5 892.4 L553.6 894.6 L559.8 896.8 L566.0 898.9 L572.4 901.1 L578.8 903.2" fill="none" stroke="#fffffa" stroke-width="7" stroke-dasharray="25 23" stroke-dashoffset="0"/>
<path d="M1060.1 42.0 L1060.1 44.1 L1060.0 46.3 L1060.0 48.5 L1060.0 50.6 L1060.0 52.8 L1059.9 55.0 L1059.9 57.1 L1059.9 59.3 L1059.8 61.4 L1059.8 63.6 L1059.8 65.8 L1059.7 67.9 L1059.7 70.1 L1059.7 72.2 L1059.6 74.4 L1059.6 76.6 L1059.6 78.7 L1059.5 80.9 L1059.5 83.0 L1059.5 85.2 L1059.4 87.4 L1059.4 89.5 L1059.3 91.7 L1059.3 93.8 L1059.3 96.0 L1059.2 98.2 L1059.2 100.3 L1059.1 102.5 L1059.1 104.6 L1059.1 106.8 L1059.0 109.0 L1059.0 111.1 L1058.9 113.3 L1058.9 115.4 L1058.8 117.6 L1058.8 119.8 L1058.7 121.9 L1058.7 124.1 L1058.6 126.2 L1058.6 128.4 L1058.5 130.6 L1058.5 132.7 L1058.4 134.9 L1058.4 137.0 L1058.3 139.2 L1058.3 141.4 L1058.2 143.5 L1058.2 145.7 L1058.1 147.8 L1058.1 150.0 L1058.0 152.2 L1058.0 154.3 L1057.9 156.5 L1057.8 158.6 L1057.8 160.8 L1057.7 163.0 L1057.7 165.1 L1057.6 167.3 L1057.5 169.4 L1057.5 171.6 L1057.4 173.8 L1057.3 175.9 L1057.3 178.1 L1057.2 180.2 L1057.1 182.4 L1057.1 184.6 L1057.0 186.7 L1056.9 188.9 L1056.8 191.0 L1056.8 193.2 L1056.7 195.4 L1056.6 197.5 L1056.5 199.7 L1056.5 201.8 L1056.4 204.0 L1056.3 206.2 L1056.2 208.3 L1056.1 210.5 L1056.1 212.6 L1056.0 214.8 L1055.9 217.0 L1055.8 219.1 L1055.7 221.3 L1055.6 223.4 L1055.5 225.6 L1055.5 227.8 L1055.4 229.9 L1055.3 232.1 L1055.2 234.2 L1055.1 236.4 L1055.0 238.6 L1054.9 240.7 L1054.8 242.9 L1054.7 245.0 L1054.6 247.2 L1054.5 249.4 L1054.4 251.5 L1054.3 253.7 L1054.1 255.8 L1054.0 258.0 L1053.9 260.2 L1053.8 262.3 L1053.7 264.5 L1053.6 266.6 L1053.5 268.8 L1053.3 271.0 L1053.2 273.1 L1053.1 275.3 L1053.0 277.4 L1052.9 279.6 L1052.7 281.8 L1052.6 283.9 L1052.5 286.1 L1052.3 288.2 L1052.2 290.4 L1052.1 292.6 L1051.9 294.7 L1051.8 296.9 L1051.6 299.0 L1051.5 301.2 L1051.3 303.4 L1051.2 305.5 L1051.0 307.7 L1050.9 309.8 L1050.7 312.0 L1050.6 314.2 L1050.4 316.3 L1050.3 318.5 L1050.1 320.6 L1049.9 322.8 L1049.8 325.0 L1049.6 327.1 L1049.4 329.3 L1049.2 331.4 L1049.1 333.6 L1048.9 335.7 L1048.7 337.9 L1048.5 340.1 L1048.3 342.2 L1048.1 344.4 L1047.9 346.5 L1047.8 348.7 L1047.6 350.9 L1047.4 353.0 L1047.2 355.2 L1046.9 357.3 L1046.7 359.5 L1046.5 361.7 L1046.3 363.8 L1046.1 366.0 L1045.9 368.1 L1045.6 370.3 L1045.4 372.5 L1045.2 374.6 L1045.0 376.8 L1044.7 378.9 L1044.5 381.1 L1044.2 383.3 L1044.0 385.4 L1043.7 387.6 L1043.5 389.7 L1043.2 391.9 L1043.0 394.0 L1042.7 396.2 L1042.4 398.4 L1042.2 400.5 L1041.9 402.7 L1041.6 404.8 L1041.3 407.0 L1041.1 409.2 L1040.8 411.3 L1040.5 413.5 L1040.2 415.6 L1039.9 417.8 L1039.6 420.0 L1039.3 422.1 L1038.9 424.3 L1038.6 426.4 L1038.3 428.6 L1038.0 430.8 L1037.6 432.9 L1037.3 435.1 L1037.0 437.2 L1036.6 439.4 L1036.3 441.5 L1035.9 443.7 L1035.6 445.9 L1035.2 448.0 L1034.8 450.2 L1034.5 452.3 L1034.1 454.5 L1033.7 456.7 L1033.3 458.8 L1032.9 461.0 L1032.5 463.1 L1032.1 465.3 L1031.7 467.4 L1031.3 469.6 L1030.8 471.8 L1030.4 473.9 L1030.0 476.1 L1029.5 478.2 L1029.1 480.4 L1028.6 482.6 L1028.2 484.7 L1027.7 486.9 L1027.2 489.0 L1026.8 491.2 L1026.3 493.3 L1025.8 495.5 L1025.3 497.7 L1024.8 499.8 L1024.3 502.0 L1023.7 504.1 L1023.2 506.3 L1022.7 508.5 L1022.1 510.6 L1021.6 512.8 L1021.0 514.9 L1020.5 517.1 L1019.9 519.2 L1019.3 521.4 L1018.7 523.6 L1018.1 525.7 L1017.5 527.9 L1016.9 530.0 L1016.3 532.2 L1015.7 534.3 L1015.0 536.5 L1014.4 538.7 L1013.7 540.8 L1013.1 543.0 L1012.4 545.1 L1011.7 547.3 L1011.0 549.4 L1010.3 551.6 L1009.6 553.8 L1008.9 555.9 L1008.2 558.1 L1007.4 560.2 L1006.7 562.4 L1005.9 564.5 L1005.2 566.7 L1004.4 568.9 L1003.6 571.0 L1002.8 573.2 L1002.0 575.3 L1001.1 577.5 L1000.3 579.6 L999.5 581.8 L998.6 584.0 L997.7 586.1 L996.9 588.3 L996.0 590.4 L995.1 592.6 L994.1 594.7 L993.2 596.9 L992.3 599.1 L991.3 601.2 L990.3 603.4 L989.3 605.5 L988.3 607.7 L987.3 609.8 L986.3 612.0 L985.3 614.2 L984.2 616.3 L983.2 618.5 L982.1 620.6 L981.0 622.8 L979.9 624.9 L978.7 627.1 L977.6 629.3 L976.4 631.4 L975.3 633.6 L974.1 635.7 L972.9 637.9 L971.6 640.0 L970.4 642.2 L969.2 644.3 L967.9 646.5 L966.6 648.7 L965.3 650.8 L964.0 653.0 L962.6 655.1 L961.2 657.3 L959.9 659.4 L958.5 661.6 L957.0 663.8 L955.6 665.9 L954.1 668.1 L952.7 670.2 L951.2 672.4 L949.6 674.5 L948.1 676.7 L946.5 678.8 L945.0 681.0 L943.4 683.2 L941.7 685.3 L940.1 687.5 L938.4 689.6 L936.7 691.8 L935.0 693.9 L933.3 696.1 L931.5 698.3 L929.7 700.4 L927.9 702.6 L926.0 704.7 L924.2 706.9 L922.3 709.0 L920.4 711.2 L918.4 713.3 L916.5 715.5 L914.5 717.7 L912.5 719.8 L910.4 722.0 L908.3 724.1 L906.2 726.3 L904.1 728.4 L901.9 730.6 L899.7 732.8 L897.5 734.9 L895.2 737.1 L893.0 739.2 L890.6 741.4 L888.3 743.5 L885.9 745.7 L883.5 747.9 L881.1 750.0 L878.6 752.2 L876.1 754.3 L873.5 756.5 L870.9 758.6 L868.3 760.8 L865.6 763.0 L863.0 765.1 L860.2 767.3 L857.5 769.4 L854.7 771.6 L851.8 773.7 L848.9 775.9 L846.0 778.1 L843.0 780.2 L840.0 782.4 L837.0 784.5 L833.9 786.7 L830.8 788.8 L827.6 791.0 L824.4 793.2 L821.2 795.3 L817.9 797.5 L814.5 799.6 L811.1 801.8 L807.7 803.9 L804.2 806.1 L800.6 808.3 L797.1 810.4 L793.4 812.6 L789.8 814.7 L786.0 816.9 L782.2 819.0 L778.4 821.2 L774.5 823.4 L770.6 825.5 L766.6 827.7 L762.5 829.8 L758.4 832.0 L754.3 834.2 L750.0 836.3 L745.8 838.5 L741.4 840.6 L737.0 842.8 L732.6 844.9 L728.1 847.1 L723.5 849.3 L718.8 851.4 L714.1 853.6 L709.4 855.7 L704.5 857.9 L699.6 860.1 L694.7 862.2 L689.6 864.4 L684.5 866.5 L679.3 868.7 L674.1 870.9 L668.8 873.0 L663.4 875.2 L657.9 877.3 L652.4 879.5 L646.8 881.6 L641.1 883.8 L635.3 886.0 L629.4 888.1 L623.5 890.3 L617.5 892.4 L611.4 894.6 L605.2 896.8 L599.0 898.9 L592.6 901.1 L586.2 903.2" fill="none" stroke="#fffffa" stroke-width="7" stroke-dasharray="25 23" stroke-dashoffset="2"/>
<path d="M102.0 42.0 L104.1 42.0 L104.1 44.2 L104.2 46.3 L104.2 48.5 L104.2 50.6 L104.2 52.8 L104.3 55.0 L104.3 57.1 L104.3 59.3 L104.4 61.4 L104.4 63.6 L104.4 65.8 L104.5 67.9 L104.5 70.1 L104.5 72.2 L104.6 74.4 L104.6 76.6 L104.6 78.7 L104.7 80.9 L104.7 83.0 L104.7 85.2 L104.8 87.4 L104.8 89.5 L104.9 91.7 L104.9 93.8 L104.9 96.0 L105.0 98.2 L105.0 100.3 L105.1 102.5 L105.1 104.7 L105.1 106.8 L105.2 109.0 L105.2 111.1 L105.3 113.3 L105.3 115.5 L105.4 117.6 L105.4 119.8 L105.5 121.9 L105.5 124.1 L105.6 126.3 L105.6 128.4 L105.7 130.6 L105.7 132.7 L105.8 134.9 L105.8 137.1 L105.9 139.2 L105.9 141.4 L106.0 143.5 L106.0 145.7 L106.1 147.9 L106.1 150.0 L106.2 152.2 L106.2 154.3 L106.3 156.5 L106.4 158.7 L106.4 160.8 L106.5 163.0 L106.5 165.1 L106.6 167.3 L106.7 169.5 L106.7 171.6 L106.8 173.8 L106.9 175.9 L106.9 178.1 L107.0 180.3 L107.1 182.4 L107.1 184.6 L107.2 186.7 L107.3 188.9 L107.4 191.1 L107.4 193.2 L107.5 195.4 L107.6 197.5 L107.7 199.7 L107.7 201.9 L107.8 204.0 L107.9 206.2 L108.0 208.4 L108.1 210.5 L108.1 212.7 L108.2 214.8 L108.3 217.0 L108.4 219.2 L108.5 221.3 L108.6 223.5 L108.7 225.6 L108.7 227.8 L108.8 230.0 L108.9 232.1 L109.0 234.3 L109.1 236.4 L109.2 238.6 L109.3 240.8 L109.4 242.9 L109.5 245.1 L109.6 247.2 L109.7 249.4 L109.8 251.6 L109.9 253.7 L110.1 255.9 L110.2 258.0 L110.3 260.2 L110.4 262.4 L110.5 264.5 L110.6 266.7 L110.7 268.8 L110.9 271.0 L111.0 273.2 L111.1 275.3 L111.2 277.5 L111.4 279.6 L111.5 281.8 L111.6 284.0 L111.7 286.1 L111.9 288.3 L112.0 290.4 L112.1 292.6 L112.3 294.8 L112.4 296.9 L112.6 299.1 L112.7 301.2 L112.9 303.4 L113.0 305.6 L113.2 307.7 L113.3 309.9 L113.5 312.1 L113.6 314.2 L113.8 316.4 L113.9 318.5 L114.1 320.7 L114.3 322.9 L114.4 325.0 L114.6 327.2 L114.8 329.3 L115.0 331.5 L115.1 333.7 L115.3 335.8 L115.5 338.0 L115.7 340.1 L115.9 342.3 L116.1 344.5 L116.3 346.6 L116.5 348.8 L116.6 350.9 L116.8 353.1 L117.1 355.3 L117.3 357.4 L117.5 359.6 L117.7 361.7 L117.9 363.9 L118.1 366.1 L118.3 368.2 L118.6 370.4 L118.8 372.5 L119.0 374.7 L119.2 376.9 L119.5 379.0 L119.7 381.2 L120.0 383.3 L120.2 385.5 L120.5 387.7 L120.7 389.8 L121.0 392.0 L121.2 394.1 L121.5 396.3 L121.8 398.5 L122.0 400.6 L122.3 402.8 L122.6 404.9 L122.9 407.1 L123.1 409.3 L123.4 411.4 L123.7 413.6 L124.0 415.7 L124.3 417.9 L124.6 420.1 L124.9 422.2 L125.3 424.4 L125.6 426.6 L125.9 428.7 L126.2 430.9 L126.6 433.0 L126.9 435.2 L127.2 437.4 L127.6 439.5 L127.9 441.7 L128.3 443.8 L128.7 446.0 L129.0 448.2 L129.4 450.3 L129.8 452.5 L130.1 454.6 L130.5 456.8 L130.9 459.0 L131.3 461.1 L131.7 463.3 L132.1 465.4 L132.5 467.6 L133.0 469.8 L133.4 471.9 L133.8 474.1 L134.2 476.2 L134.7 478.4 L135.1 480.6 L135.6 482.7 L136.0 484.9 L136.5 487.0 L137.0 489.2 L137.5 491.4 L137.9 493.5 L138.4 495.7 L138.9 497.8 L139.4 500.0 L140.0 502.2 L140.5 504.3 L141.0 506.5 L141.5 508.6 L142.1 510.8 L142.6 513.0 L143.2 515.1 L143.8 517.3 L144.3 519.4 L144.9 521.6 L145.5 523.8 L146.1 525.9 L146.7 528.1 L147.3 530.3 L147.9 532.4 L148.6 534.6 L149.2 536.7 L149.8 538.9 L150.5 541.1 L151.2 543.2 L151.8 545.4 L152.5 547.5 L153.2 549.7 L153.9 551.9 L154.6 554.0 L155.3 556.2 L156.1 558.3 L156.8 560.5 L157.6 562.7 L158.3 564.8 L159.1 567.0 L159.9 569.1 L160.7 571.3 L161.5 573.5 L162.3 575.6 L163.1 577.8 L163.9 579.9 L164.8 582.1 L165.7 584.3 L166.5 586.4 L167.4 588.6 L168.3 590.7 L169.2 592.9 L170.1 595.1 L171.1 597.2 L172.0 599.4 L173.0 601.5 L173.9 603.7 L174.9 605.9 L175.9 608.0 L176.9 610.2 L178.0 612.3 L179.0 614.5 L180.1 616.7 L181.1 618.8 L182.2 621.0 L183.3 623.1 L184.4 625.3 L185.6 627.5 L186.7 629.6 L187.9 631.8 L189.0 633.9 L190.2 636.1 L191.4 638.3 L192.7 640.4 L193.9 642.6 L195.2 644.8 L196.4 646.9 L197.7 649.1 L199.0 651.2 L200.4 653.4 L201.7 655.6 L203.1 657.7 L204.5 659.9 L205.9 662.0 L207.3 664.2 L208.7 666.4 L210.2 668.5 L211.7 670.7 L213.2 672.8 L214.7 675.0 L216.2 677.2 L217.8 679.3 L219.4 681.5 L221.0 683.6 L222.6 685.8 L224.3 688.0 L226.0 690.1 L227.7 692.3 L229.4 694.4 L231.1 696.6 L232.9 698.8 L234.7 700.9 L236.5 703.1 L238.3 705.2 L240.2 707.4 L242.1 709.6 L244.0 711.7 L246.0 713.9 L247.9 716.0 L249.9 718.2 L252.0 720.4 L254.0 722.5 L256.1 724.7 L258.2 726.8 L260.3 729.0 L262.5 731.2 L264.7 733.3 L266.9 735.5 L269.2 737.6 L271.5 739.8 L273.8 742.0 L276.2 744.1 L278.6 746.3 L281.0 748.5 L283.4 750.6 L285.9 752.8 L288.4 754.9 L291.0 757.1 L293.6 759.3 L296.2 761.4 L298.9 763.6 L301.5 765.7 L304.3 767.9 L307.1 770.1 L309.9 772.2 L312.7 774.4 L315.6 776.5 L318.5 778.7 L321.5 780.9 L324.5 783.0 L327.5 785.2 L330.6 787.3 L333.8 789.5 L336.9 791.7 L340.1 793.8 L343.4 796.0 L346.7 798.1 L350.1 800.3 L353.5 802.5 L356.9 804.6 L360.4 806.8 L363.9 808.9 L367.5 811.1 L371.2 813.3 L374.8 815.4 L378.6 817.6 L382.4 819.7 L386.2 821.9 L390.1 824.1 L394.1 826.2 L398.0 828.4 L402.1 830.5 L406.2 832.7 L410.4 834.9 L414.6 837.0 L418.9 839.2 L423.2 841.3 L427.6 843.5 L432.1 845.7 L436.6 847.8 L441.2 850.0 L445.8 852.2 L450.5 854.3 L455.3 856.5 L460.2 858.6 L465.1 860.8 L470.0 863.0 L475.1 865.1 L480.2 867.3 L485.4 869.4 L490.6 871.6 L495.9 873.8 L501.3 875.9 L506.8 878.1 L512.3 880.2 L518.0 882.4 L523.7 884.6 L529.4 886.7 L535.3 888.9 L541.2 891.0 L547.2 893.2 L553.3 895.4 L559.5 897.5 L565.8 899.7 L572.1 901.8 L578.6 904.0 L102.0 904.0 Z" fill="#858587" fill-opacity="0.8"/>
<path d="M1063.0 42.0 L1060.9 42.0 L1060.9 44.2 L1060.8 46.3 L1060.8 48.5 L1060.8 50.6 L1060.8 52.8 L1060.7 55.0 L1060.7 57.1 L1060.7 59.3 L1060.6 61.4 L1060.6 63.6 L1060.6 65.8 L1060.5 67.9 L1060.5 70.1 L1060.5 72.2 L1060.4 74.4 L1060.4 76.6 L1060.4 78.7 L1060.3 80.9 L1060.3 83.0 L1060.3 85.2 L1060.2 87.4 L1060.2 89.5 L1060.1 91.7 L1060.1 93.8 L1060.1 96.0 L1060.0 98.2 L1060.0 100.3 L1059.9 102.5 L1059.9 104.7 L1059.9 106.8 L1059.8 109.0 L1059.8 111.1 L1059.7 113.3 L1059.7 115.5 L1059.6 117.6 L1059.6 119.8 L1059.5 121.9 L1059.5 124.1 L1059.4 126.3 L1059.4 128.4 L1059.3 130.6 L1059.3 132.7 L1059.2 134.9 L1059.2 137.1 L1059.1 139.2 L1059.1 141.4 L1059.0 143.5 L1059.0 145.7 L1058.9 147.9 L1058.9 150.0 L1058.8 152.2 L1058.8 154.3 L1058.7 156.5 L1058.6 158.7 L1058.6 160.8 L1058.5 163.0 L1058.5 165.1 L1058.4 167.3 L1058.3 169.5 L1058.3 171.6 L1058.2 173.8 L1058.1 175.9 L1058.1 178.1 L1058.0 180.3 L1057.9 182.4 L1057.9 184.6 L1057.8 186.7 L1057.7 188.9 L1057.6 191.1 L1057.6 193.2 L1057.5 195.4 L1057.4 197.5 L1057.3 199.7 L1057.3 201.9 L1057.2 204.0 L1057.1 206.2 L1057.0 208.4 L1056.9 210.5 L1056.9 212.7 L1056.8 214.8 L1056.7 217.0 L1056.6 219.2 L1056.5 221.3 L1056.4 223.5 L1056.3 225.6 L1056.3 227.8 L1056.2 230.0 L1056.1 232.1 L1056.0 234.3 L1055.9 236.4 L1055.8 238.6 L1055.7 240.8 L1055.6 242.9 L1055.5 245.1 L1055.4 247.2 L1055.3 249.4 L1055.2 251.6 L1055.1 253.7 L1054.9 255.9 L1054.8 258.0 L1054.7 260.2 L1054.6 262.4 L1054.5 264.5 L1054.4 266.7 L1054.3 268.8 L1054.1 271.0 L1054.0 273.2 L1053.9 275.3 L1053.8 277.5 L1053.6 279.6 L1053.5 281.8 L1053.4 284.0 L1053.3 286.1 L1053.1 288.3 L1053.0 290.4 L1052.9 292.6 L1052.7 294.8 L1052.6 296.9 L1052.4 299.1 L1052.3 301.2 L1052.1 303.4 L1052.0 305.6 L1051.8 307.7 L1051.7 309.9 L1051.5 312.1 L1051.4 314.2 L1051.2 316.4 L1051.1 318.5 L1050.9 320.7 L1050.7 322.9 L1050.6 325.0 L1050.4 327.2 L1050.2 329.3 L1050.0 331.5 L1049.9 333.7 L1049.7 335.8 L1049.5 338.0 L1049.3 340.1 L1049.1 342.3 L1048.9 344.5 L1048.7 346.6 L1048.5 348.8 L1048.4 350.9 L1048.2 353.1 L1047.9 355.3 L1047.7 357.4 L1047.5 359.6 L1047.3 361.7 L1047.1 363.9 L1046.9 366.1 L1046.7 368.2 L1046.4 370.4 L1046.2 372.5 L1046.0 374.7 L1045.8 376.9 L1045.5 379.0 L1045.3 381.2 L1045.0 383.3 L1044.8 385.5 L1044.5 387.7 L1044.3 389.8 L1044.0 392.0 L1043.8 394.1 L1043.5 396.3 L1043.2 398.5 L1043.0 400.6 L1042.7 402.8 L1042.4 404.9 L1042.1 407.1 L1041.9 409.3 L1041.6 411.4 L1041.3 413.6 L1041.0 415.7 L1040.7 417.9 L1040.4 420.1 L1040.1 422.2 L1039.7 424.4 L1039.4 426.6 L1039.1 428.7 L1038.8 430.9 L1038.4 433.0 L1038.1 435.2 L1037.8 437.4 L1037.4 439.5 L1037.1 441.7 L1036.7 443.8 L1036.3 446.0 L1036.0 448.2 L1035.6 450.3 L1035.2 452.5 L1034.9 454.6 L1034.5 456.8 L1034.1 459.0 L1033.7 461.1 L1033.3 463.3 L1032.9 465.4 L1032.5 467.6 L1032.0 469.8 L1031.6 471.9 L1031.2 474.1 L1030.8 476.2 L1030.3 478.4 L1029.9 480.6 L1029.4 482.7 L1029.0 484.9 L1028.5 487.0 L1028.0 489.2 L1027.5 491.4 L1027.1 493.5 L1026.6 495.7 L1026.1 497.8 L1025.6 500.0 L1025.0 502.2 L1024.5 504.3 L1024.0 506.5 L1023.5 508.6 L1022.9 510.8 L1022.4 513.0 L1021.8 515.1 L1021.2 517.3 L1020.7 519.4 L1020.1 521.6 L1019.5 523.8 L1018.9 525.9 L1018.3 528.1 L1017.7 530.3 L1017.1 532.4 L1016.4 534.6 L1015.8 536.7 L1015.2 538.9 L1014.5 541.1 L1013.8 543.2 L1013.2 545.4 L1012.5 547.5 L1011.8 549.7 L1011.1 551.9 L1010.4 554.0 L1009.7 556.2 L1008.9 558.3 L1008.2 560.5 L1007.4 562.7 L1006.7 564.8 L1005.9 567.0 L1005.1 569.1 L1004.3 571.3 L1003.5 573.5 L1002.7 575.6 L1001.9 577.8 L1001.1 579.9 L1000.2 582.1 L999.3 584.3 L998.5 586.4 L997.6 588.6 L996.7 590.7 L995.8 592.9 L994.9 595.1 L993.9 597.2 L993.0 599.4 L992.0 601.5 L991.1 603.7 L990.1 605.9 L989.1 608.0 L988.1 610.2 L987.0 612.3 L986.0 614.5 L984.9 616.7 L983.9 618.8 L982.8 621.0 L981.7 623.1 L980.6 625.3 L979.4 627.5 L978.3 629.6 L977.1 631.8 L976.0 633.9 L974.8 636.1 L973.6 638.3 L972.3 640.4 L971.1 642.6 L969.8 644.8 L968.6 646.9 L967.3 649.1 L966.0 651.2 L964.6 653.4 L963.3 655.6 L961.9 657.7 L960.5 659.9 L959.1 662.0 L957.7 664.2 L956.3 666.4 L954.8 668.5 L953.3 670.7 L951.8 672.8 L950.3 675.0 L948.8 677.2 L947.2 679.3 L945.6 681.5 L944.0 683.6 L942.4 685.8 L940.7 688.0 L939.0 690.1 L937.3 692.3 L935.6 694.4 L933.9 696.6 L932.1 698.8 L930.3 700.9 L928.5 703.1 L926.7 705.2 L924.8 707.4 L922.9 709.6 L921.0 711.7 L919.0 713.9 L917.1 716.0 L915.1 718.2 L913.0 720.4 L911.0 722.5 L908.9 724.7 L906.8 726.8 L904.7 729.0 L902.5 731.2 L900.3 733.3 L898.1 735.5 L895.8 737.6 L893.5 739.8 L891.2 742.0 L888.8 744.1 L886.4 746.3 L884.0 748.5 L881.6 750.6 L879.1 752.8 L876.6 754.9 L874.0 757.1 L871.4 759.3 L868.8 761.4 L866.1 763.6 L863.5 765.7 L860.7 767.9 L857.9 770.1 L855.1 772.2 L852.3 774.4 L849.4 776.5 L846.5 778.7 L843.5 780.9 L840.5 783.0 L837.5 785.2 L834.4 787.3 L831.2 789.5 L828.1 791.7 L824.9 793.8 L821.6 796.0 L818.3 798.1 L814.9 800.3 L811.5 802.5 L808.1 804.6 L804.6 806.8 L801.1 808.9 L797.5 811.1 L793.8 813.3 L790.2 815.4 L786.4 817.6 L782.6 819.7 L778.8 821.9 L774.9 824.1 L770.9 826.2 L767.0 828.4 L762.9 830.5 L758.8 832.7 L754.6 834.9 L750.4 837.0 L746.1 839.2 L741.8 841.3 L737.4 843.5 L732.9 845.7 L728.4 847.8 L723.8 850.0 L719.2 852.2 L714.5 854.3 L709.7 856.5 L704.8 858.6 L699.9 860.8 L695.0 863.0 L689.9 865.1 L684.8 867.3 L679.6 869.4 L674.4 871.6 L669.1 873.8 L663.7 875.9 L658.2 878.1 L652.7 880.2 L647.0 882.4 L641.3 884.6 L635.6 886.7 L629.7 888.9 L623.8 891.0 L617.8 893.2 L611.7 895.4 L605.5 897.5 L599.2 899.7 L592.9 901.8 L586.4 904.0 L1063.0 904.0 Z" fill="#858587" fill-opacity="0.8"/>
</g>
</svg>
</div>
<div id="top">
<svg width="1288" height="1012" viewBox="0 0 1288 1012">
<line x1="102.0" y1="902.0" x2="102.0" y2="893.0"/>
<line x1="262.2" y1="902.0" x2="262.2" y2="893.0"/>
<line x1="422.3" y1="902.0" x2="422.3" y2="893.0"/>
<line x1="582.5" y1="902.0" x2="582.5" y2="893.0"/>
<line x1="742.7" y1="902.0" x2="742.7" y2="893.0"/>
<line x1="902.8" y1="902.0" x2="902.8" y2="893.0"/>
<line x1="1063.0" y1="902.0" x2="1063.0" y2="893.0"/>
<line x1="102.0" y1="79.9" x2="107.5" y2="79.9"/>
<line x1="102.0" y1="190.0" x2="111.5" y2="190.0"/>
<line x1="102.0" y1="206.7" x2="107.5" y2="206.7"/>
<line x1="102.0" y1="225.4" x2="107.5" y2="225.4"/>
<line x1="102.0" y1="246.6" x2="107.5" y2="246.6"/>
<line x1="102.0" y1="271.1" x2="107.5" y2="271.1"/>
<line x1="102.0" y1="300.1" x2="107.5" y2="300.1"/>
<line x1="102.0" y1="335.5" x2="107.5" y2="335.5"/>
<line x1="102.0" y1="381.2" x2="107.5" y2="381.2"/>
<line x1="102.0" y1="445.6" x2="107.5" y2="445.6"/>
<line x1="102.0" y1="555.7" x2="111.5" y2="555.7"/>
<line x1="102.0" y1="572.4" x2="107.5" y2="572.4"/>
<line x1="102.0" y1="591.1" x2="107.5" y2="591.1"/>
<line x1="102.0" y1="612.3" x2="107.5" y2="612.3"/>
<line x1="102.0" y1="636.8" x2="107.5" y2="636.8"/>
<line x1="102.0" y1="665.8" x2="107.5" y2="665.8"/>
<line x1="102.0" y1="701.2" x2="107.5" y2="701.2"/>
<line x1="102.0" y1="746.9" x2="107.5" y2="746.9"/>
<line x1="102.0" y1="811.3" x2="107.5" y2="811.3"/>
<line x1="1163.5" y1="830.0" x2="1154.5" y2="830.0"/>
<line x1="1163.5" y1="757.4" x2="1154.5" y2="757.4"/>
<line x1="1163.5" y1="684.8" x2="1154.5" y2="684.8"/>
<line x1="1163.5" y1="612.2" x2="1154.5" y2="612.2"/>
<line x1="1163.5" y1="539.6" x2="1154.5" y2="539.6"/>
<line x1="1163.5" y1="467.0" x2="1154.5" y2="467.0"/>
<line x1="1163.5" y1="394.4" x2="1154.5" y2="394.4"/>
<line x1="1163.5" y1="321.8" x2="1154.5" y2="321.8"/>
<line x1="1163.5" y1="249.2" x2="1154.5" y2="249.2"/>
<line x1="1163.5" y1="176.6" x2="1154.5" y2="176.6"/>
<line x1="1163.5" y1="104.0" x2="1154.5" y2="104.0"/>
<path d="M102.0 43.5 V902.0 H1064.0" fill="none" stroke="#505054" stroke-width="2.2"/>
<line x1="1063.0" y1="44.0" x2="1063.0" y2="902.0" style="stroke:#6a6c84;stroke-width:1.2"/>
<rect x="1110.5" y="44.0" width="53.0" height="858.0" fill="none" stroke="#4a4a38" stroke-width="1.4"/>
<text x="102.0" y="951" text-anchor="middle" class="tk">0</text>
<text x="262.2" y="951" text-anchor="middle" class="tk">5</text>
<text x="423.8" y="951" text-anchor="middle" class="tk">10</text>
<text x="584.5" y="951" text-anchor="middle" class="tk">15</text>
<text x="742.7" y="951" text-anchor="middle" class="tk">20</text>
<text x="902.8" y="951" text-anchor="middle" class="tk">25</text>
<text x="1063.0" y="951" text-anchor="middle" class="tk">30</text>
<text x="87.5" y="202.5" text-anchor="end" class="tk">10</text>
<text x="80.7" y="568" text-anchor="end" class="tk">1</text>
<text x="1176" y="842.3" class="ck">0.01</text>
<text x="1176" y="769.7" class="ck">0.02</text>
<text x="1176" y="697.1" class="ck">0.03</text>
<text x="1176" y="624.5" class="ck">0.04</text>
<text x="1176" y="551.9" class="ck">0.05</text>
<text x="1176" y="479.3" class="ck">0.06</text>
<text x="1176" y="406.7" class="ck">0.07</text>
<text x="1176" y="334.1" class="ck">0.08</text>
<text x="1176" y="261.5" class="ck">0.09</text>
<text x="1176" y="188.9" class="ck">0.1</text>
<text x="1176" y="116.3" class="ck">0.11</text>
<text x="584" y="30.5" text-anchor="middle" class="tt">Magnitude Scalogram</text>
<text x="584" y="999.5" text-anchor="middle" class="lb">Time (secs)</text>
<text transform="translate(30.5,473) rotate(-90)" text-anchor="middle" class="lb">Frequency (Hz)</text>
<text transform="translate(1277.5,473) rotate(-90)" text-anchor="middle" class="mg">Magnitude</text>
</svg>
</div></body></html>
